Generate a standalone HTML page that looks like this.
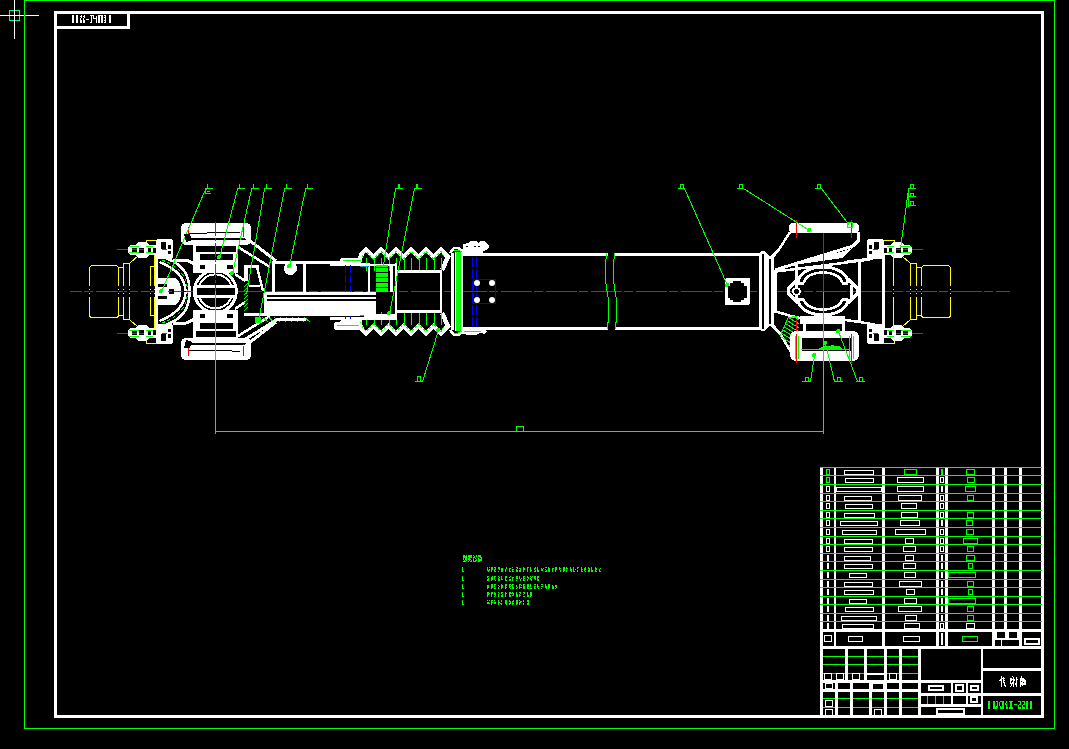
<!DOCTYPE html>
<html><head><meta charset="utf-8"><style>
html,body{margin:0;padding:0;background:#000;width:1069px;height:749px;overflow:hidden}
svg{display:block}
</style></head><body>
<svg width="1069" height="749" viewBox="0 0 1069 749" shape-rendering="crispEdges">
<rect width="1069" height="749" fill="#000"/>
<rect x="24" y="0" width="1031" height="1" fill="#0f0"/>
<rect x="24" y="728" width="1031" height="1" fill="#0f0"/>
<rect x="24" y="0" width="1" height="729" fill="#0f0"/>
<rect x="1054" y="0" width="1" height="729" fill="#0f0"/>
<rect x="54" y="11" width="990" height="3" fill="#fff"/>
<rect x="54" y="715" width="990" height="3" fill="#fff"/>
<rect x="54" y="11" width="3" height="707" fill="#fff"/>
<rect x="1041" y="11" width="3" height="707" fill="#fff"/>
<rect x="54" y="11" width="76" height="3" fill="#fff"/>
<rect x="54" y="26" width="76" height="3" fill="#fff"/>
<rect x="54" y="11" width="3" height="18" fill="#fff"/>
<rect x="127" y="11" width="3" height="18" fill="#fff"/>
<rect x="9" y="10" width="11" height="1" fill="#00ff80"/>
<rect x="9" y="20" width="11" height="1" fill="#00ff80"/>
<rect x="9" y="10" width="1" height="11" fill="#00ff80"/>
<rect x="19" y="10" width="1" height="11" fill="#00ff80"/>
<rect x="14" y="0" width="1" height="39" fill="#fff"/>
<rect x="0" y="15" width="39" height="1" fill="#fff"/>
<rect x="24" y="15" width="1" height="1" fill="#f0f"/>
<line x1="69.5" y1="291.5" x2="1009.5" y2="291.5" stroke="#f00" stroke-width="1" stroke-dasharray="31 2 9 3" stroke-dashoffset="19"/>
<g transform="">
<path d="M138,256 L130,263 M146,244 L146,240 L157,240" stroke="#ff0" stroke-width="1" fill="none" />
<rect x="128" y="245" width="30" height="10" rx="4" fill="#fff"/>
<rect x="136" y="242" width="13" height="16" rx="4" fill="#fff"/>
<rect x="156" y="239" width="17" height="20" rx="3" fill="#fff"/>
<rect x="132" y="248" width="5" height="5" fill="#000"/>
<rect x="139" y="248" width="5" height="5" fill="#000"/>
<rect x="148" y="248" width="3" height="5" fill="#000"/>
<rect x="153" y="248" width="3" height="5" fill="#000"/>
<rect x="161" y="242" width="5" height="7" fill="#000"/>
<rect x="168" y="245" width="3" height="4" fill="#000"/>
<rect x="168" y="251" width="3" height="3" fill="#000"/>
<rect x="129" y="246" width="10" height="1" fill="#0f0"/>
<rect x="146" y="246" width="7" height="1" fill="#0f0"/>
<rect x="129" y="252" width="10" height="1" fill="#0f0"/>
<rect x="146" y="252" width="7" height="1" fill="#0f0"/>
<rect x="117" y="249" width="11" height="1" fill="#f00"/>
<rect x="132" y="249" width="5" height="1" fill="#f00"/>
<rect x="139" y="249" width="5" height="1" fill="#f00"/>
<rect x="162" y="249" width="5" height="1" fill="#f00"/>
<rect x="155" y="253" width="3" height="39" fill="#fff"/>
</g>
<g transform="matrix(1 0 0 -1 0 583)">
<path d="M138,256 L130,263 M146,244 L146,240 L157,240" stroke="#ff0" stroke-width="1" fill="none" />
<rect x="128" y="245" width="30" height="10" rx="4" fill="#fff"/>
<rect x="136" y="242" width="13" height="16" rx="4" fill="#fff"/>
<rect x="156" y="239" width="17" height="20" rx="3" fill="#fff"/>
<rect x="132" y="248" width="5" height="5" fill="#000"/>
<rect x="139" y="248" width="5" height="5" fill="#000"/>
<rect x="148" y="248" width="3" height="5" fill="#000"/>
<rect x="153" y="248" width="3" height="5" fill="#000"/>
<rect x="161" y="242" width="5" height="7" fill="#000"/>
<rect x="168" y="245" width="3" height="4" fill="#000"/>
<rect x="168" y="251" width="3" height="3" fill="#000"/>
<rect x="129" y="246" width="10" height="1" fill="#0f0"/>
<rect x="146" y="246" width="7" height="1" fill="#0f0"/>
<rect x="129" y="252" width="10" height="1" fill="#0f0"/>
<rect x="146" y="252" width="7" height="1" fill="#0f0"/>
<rect x="117" y="249" width="11" height="1" fill="#f00"/>
<rect x="132" y="249" width="5" height="1" fill="#f00"/>
<rect x="139" y="249" width="5" height="1" fill="#f00"/>
<rect x="162" y="249" width="5" height="1" fill="#f00"/>
<rect x="155" y="253" width="3" height="39" fill="#fff"/>
</g>
<g transform="matrix(-1 0 0 1 1040 0)">
<path d="M138,256 L130,263 M146,244 L146,240 L157,240" stroke="#ff0" stroke-width="1" fill="none" />
<rect x="128" y="245" width="30" height="10" rx="4" fill="#fff"/>
<rect x="136" y="242" width="13" height="16" rx="4" fill="#fff"/>
<rect x="156" y="239" width="17" height="20" rx="3" fill="#fff"/>
<rect x="132" y="248" width="5" height="5" fill="#000"/>
<rect x="139" y="248" width="5" height="5" fill="#000"/>
<rect x="148" y="248" width="3" height="5" fill="#000"/>
<rect x="153" y="248" width="3" height="5" fill="#000"/>
<rect x="161" y="242" width="5" height="7" fill="#000"/>
<rect x="168" y="245" width="3" height="4" fill="#000"/>
<rect x="168" y="251" width="3" height="3" fill="#000"/>
<rect x="129" y="246" width="10" height="1" fill="#0f0"/>
<rect x="146" y="246" width="7" height="1" fill="#0f0"/>
<rect x="129" y="252" width="10" height="1" fill="#0f0"/>
<rect x="146" y="252" width="7" height="1" fill="#0f0"/>
<rect x="117" y="249" width="11" height="1" fill="#f00"/>
<rect x="132" y="249" width="5" height="1" fill="#f00"/>
<rect x="139" y="249" width="5" height="1" fill="#f00"/>
<rect x="162" y="249" width="5" height="1" fill="#f00"/>
<rect x="155" y="253" width="3" height="39" fill="#fff"/>
</g>
<g transform="matrix(-1 0 0 -1 1040 583)">
<path d="M138,256 L130,263 M146,244 L146,240 L157,240" stroke="#ff0" stroke-width="1" fill="none" />
<rect x="128" y="245" width="30" height="10" rx="4" fill="#fff"/>
<rect x="136" y="242" width="13" height="16" rx="4" fill="#fff"/>
<rect x="156" y="239" width="17" height="20" rx="3" fill="#fff"/>
<rect x="132" y="248" width="5" height="5" fill="#000"/>
<rect x="139" y="248" width="5" height="5" fill="#000"/>
<rect x="148" y="248" width="3" height="5" fill="#000"/>
<rect x="153" y="248" width="3" height="5" fill="#000"/>
<rect x="161" y="242" width="5" height="7" fill="#000"/>
<rect x="168" y="245" width="3" height="4" fill="#000"/>
<rect x="168" y="251" width="3" height="3" fill="#000"/>
<rect x="129" y="246" width="10" height="1" fill="#0f0"/>
<rect x="146" y="246" width="7" height="1" fill="#0f0"/>
<rect x="129" y="252" width="10" height="1" fill="#0f0"/>
<rect x="146" y="252" width="7" height="1" fill="#0f0"/>
<rect x="117" y="249" width="11" height="1" fill="#f00"/>
<rect x="132" y="249" width="5" height="1" fill="#f00"/>
<rect x="139" y="249" width="5" height="1" fill="#f00"/>
<rect x="162" y="249" width="5" height="1" fill="#f00"/>
<rect x="155" y="253" width="3" height="39" fill="#fff"/>
</g>
<g>
<rect x="89.5" y="265.5" width="29" height="52" rx="3" fill="none" stroke="#ff0" stroke-width="1"/>
<rect x="118" y="267" width="6" height="1" fill="#ff0"/>
<rect x="118" y="315" width="6" height="1" fill="#ff0"/>
<rect x="118" y="267" width="1" height="49" fill="#ff0"/>
<rect x="123" y="267" width="1" height="49" fill="#ff0"/>
<rect x="123" y="263" width="7" height="1" fill="#ff0"/>
<rect x="123" y="319" width="7" height="1" fill="#ff0"/>
<rect x="123" y="263" width="1" height="57" fill="#ff0"/>
<rect x="129" y="263" width="1" height="57" fill="#ff0"/>
<rect x="150" y="266" width="5" height="1" fill="#ff0"/>
<rect x="150" y="315" width="5" height="1" fill="#ff0"/>
<rect x="150" y="266" width="1" height="50" fill="#ff0"/>
<rect x="154" y="266" width="1" height="50" fill="#ff0"/>
<rect x="154" y="255" width="1" height="74" fill="#ff0"/>
<rect x="89" y="286" width="1" height="11" fill="#000"/>
<rect x="89" y="289" width="1" height="1" fill="#ff0"/>
<rect x="89" y="293" width="1" height="1" fill="#ff0"/>
<rect x="118" y="286" width="1" height="11" fill="#000"/>
<rect x="118" y="289" width="1" height="1" fill="#ff0"/>
<rect x="118" y="293" width="1" height="1" fill="#ff0"/>
<rect x="123" y="286" width="1" height="11" fill="#000"/>
<rect x="123" y="289" width="1" height="1" fill="#ff0"/>
<rect x="123" y="293" width="1" height="1" fill="#ff0"/>
<rect x="129" y="286" width="1" height="11" fill="#000"/>
<rect x="129" y="289" width="1" height="1" fill="#ff0"/>
<rect x="129" y="293" width="1" height="1" fill="#ff0"/>
<rect x="150" y="286" width="1" height="11" fill="#000"/>
<rect x="150" y="289" width="1" height="1" fill="#ff0"/>
<rect x="150" y="293" width="1" height="1" fill="#ff0"/>
<rect x="154" y="286" width="1" height="11" fill="#000"/>
<rect x="154" y="289" width="1" height="1" fill="#ff0"/>
<rect x="154" y="293" width="1" height="1" fill="#ff0"/>
</g>
<g transform="matrix(-1 0 0 1 1040 0)">
<rect x="89.5" y="265.5" width="29" height="52" rx="3" fill="none" stroke="#ff0" stroke-width="1"/>
<rect x="118" y="267" width="6" height="1" fill="#ff0"/>
<rect x="118" y="315" width="6" height="1" fill="#ff0"/>
<rect x="118" y="267" width="1" height="49" fill="#ff0"/>
<rect x="123" y="267" width="1" height="49" fill="#ff0"/>
<rect x="123" y="263" width="7" height="1" fill="#ff0"/>
<rect x="123" y="319" width="7" height="1" fill="#ff0"/>
<rect x="123" y="263" width="1" height="57" fill="#ff0"/>
<rect x="129" y="263" width="1" height="57" fill="#ff0"/>
<rect x="146" y="255" width="1" height="74" fill="#ff0"/>
<rect x="89" y="286" width="1" height="11" fill="#000"/>
<rect x="89" y="289" width="1" height="1" fill="#ff0"/>
<rect x="89" y="293" width="1" height="1" fill="#ff0"/>
<rect x="118" y="286" width="1" height="11" fill="#000"/>
<rect x="118" y="289" width="1" height="1" fill="#ff0"/>
<rect x="118" y="293" width="1" height="1" fill="#ff0"/>
<rect x="123" y="286" width="1" height="11" fill="#000"/>
<rect x="123" y="289" width="1" height="1" fill="#ff0"/>
<rect x="123" y="293" width="1" height="1" fill="#ff0"/>
<rect x="129" y="286" width="1" height="11" fill="#000"/>
<rect x="129" y="289" width="1" height="1" fill="#ff0"/>
<rect x="129" y="293" width="1" height="1" fill="#ff0"/>
<rect x="146" y="286" width="1" height="11" fill="#000"/>
<rect x="146" y="289" width="1" height="1" fill="#ff0"/>
<rect x="146" y="293" width="1" height="1" fill="#ff0"/>
</g>
<g>
<path d="M162,257 C177,261 190,270 189.5,291" stroke="#fff" stroke-width="2.5" fill="none" />
<path d="M159.5,262 C172,267 185,276 185.5,291" stroke="#fff" stroke-width="2.5" fill="none" />
<path d="M162,260 C175,265 187,273 187.5,291" stroke="#0f0" stroke-width="1" fill="none" stroke-dasharray="3 3"/>
<path d="M173,260 L186,260 L193,263 L197,270" stroke="#fff" stroke-width="3" fill="none" />
<path d="M167,278 L175,278 Q181,281 181,291 L167,291 Z" fill="#fff"/>
<rect x="158" y="278" width="10" height="6" fill="#fff"/>
<rect x="158" y="287" width="10" height="5" fill="#fff"/>
<path d="M169,289 L174,289 L174,291 L169,291 Z" fill="#000"/>
<rect x="181" y="223" width="70" height="22" rx="5" fill="#fff"/>
<path d="M189,233 L207,233 L232,232 L240,232" stroke="#000" stroke-width="1" fill="none" />
<rect x="186" y="238" width="62" height="2" fill="#000"/>
<rect x="188" y="227" width="1" height="12" fill="#f00"/>
<rect x="243" y="227" width="1" height="12" fill="#f00"/>
<rect x="193" y="245" width="45" height="28" fill="#fff"/>
<rect x="196" y="246" width="40" height="6" fill="#000"/>
<rect x="200" y="254" width="33" height="6" fill="#000"/>
<rect x="200" y="265" width="5" height="4" fill="#000"/>
<rect x="227" y="265" width="6" height="4" fill="#000"/>
<path d="M244,236 L276,261" stroke="#fff" stroke-width="3" fill="none" />
<path d="M238,247 L270,267" stroke="#fff" stroke-width="2.5" fill="none" />
<path d="M235,274 L245,281" stroke="#fff" stroke-width="2.5" fill="none" />
<path d="M359,263 L361,255 L366,249.5 L373.5,257 L381,249.5 L388.5,257 L396,249.5 L403.5,257 L411,249.5 L418.5,257 L426,249.5 L433.5,257 L441,249.5 L448,257 L442,270" stroke="#fff" stroke-width="4.5" fill="none" />
<path d="M362,257 L366,251.5 L373.5,259 L381,251.5 L388.5,259 L396,251.5 L403.5,259 L411,251.5 L418.5,259 L426,251.5 L433.5,259 L441,251.5 L445,258" stroke="#0f0" stroke-width="1" fill="none" stroke-dasharray="2 2"/>
<rect x="366" y="258" width="1" height="13" fill="#0f0"/>
<rect x="374" y="258" width="1" height="13" fill="#0f0"/>
<rect x="381" y="258" width="1" height="13" fill="#0f0"/>
<rect x="389" y="258" width="1" height="13" fill="#0f0"/>
<rect x="396" y="258" width="1" height="13" fill="#0f0"/>
<rect x="404" y="258" width="1" height="13" fill="#0f0"/>
<rect x="411" y="258" width="1" height="13" fill="#0f0"/>
<rect x="419" y="258" width="1" height="13" fill="#0f0"/>
<rect x="426" y="258" width="1" height="13" fill="#0f0"/>
<rect x="434" y="258" width="1" height="13" fill="#0f0"/>
<rect x="441" y="258" width="1" height="13" fill="#0f0"/>
<rect x="451" y="253" width="3" height="39" fill="#fff"/>
<rect x="456" y="252" width="5" height="40" fill="#0f0"/>
<rect x="455" y="252" width="1" height="40" fill="#fff"/>
<rect x="461" y="252" width="2" height="40" fill="#fff"/>
<path d="M450,253 L454,248 L458,248 L463,251" stroke="#fff" stroke-width="2.5" fill="none" />
<path d="M454,250 L458,250 L462,252" stroke="#0f0" stroke-width="1" fill="none" />
<rect x="340" y="258" width="22" height="5" rx="2" fill="#fff"/>
<rect x="343" y="260" width="18" height="1" fill="#0f0"/>
<rect x="330" y="263" width="38" height="3" fill="#fff"/>
<line x1="345.5" y1="264.5" x2="345.5" y2="291.5" stroke="#00f" stroke-width="1" stroke-dasharray="8 2"/>
<line x1="350.5" y1="264.5" x2="350.5" y2="291.5" stroke="#00f" stroke-width="1" stroke-dasharray="8 2"/>
<rect x="396" y="270" width="46" height="3" fill="#fff"/>
<rect x="395" y="263" width="2" height="29" fill="#fff"/>
<rect x="440" y="270" width="2" height="22" fill="#fff"/>
</g>
<g transform="matrix(1 0 0 -1 0 583)">
<path d="M162,257 C177,261 190,270 189.5,291" stroke="#fff" stroke-width="2.5" fill="none" />
<path d="M159.5,262 C172,267 185,276 185.5,291" stroke="#fff" stroke-width="2.5" fill="none" />
<path d="M162,260 C175,265 187,273 187.5,291" stroke="#0f0" stroke-width="1" fill="none" stroke-dasharray="3 3"/>
<path d="M173,260 L186,260 L193,263 L197,270" stroke="#fff" stroke-width="3" fill="none" />
<path d="M167,278 L175,278 Q181,281 181,291 L167,291 Z" fill="#fff"/>
<rect x="158" y="278" width="10" height="6" fill="#fff"/>
<rect x="158" y="287" width="10" height="5" fill="#fff"/>
<path d="M169,289 L174,289 L174,291 L169,291 Z" fill="#000"/>
<rect x="181" y="223" width="70" height="22" rx="5" fill="#fff"/>
<path d="M189,233 L207,233 L232,232 L240,232" stroke="#000" stroke-width="1" fill="none" />
<rect x="186" y="238" width="62" height="2" fill="#000"/>
<rect x="188" y="227" width="1" height="12" fill="#f00"/>
<rect x="243" y="227" width="1" height="12" fill="#f00"/>
<rect x="193" y="245" width="45" height="28" fill="#fff"/>
<rect x="196" y="246" width="40" height="6" fill="#000"/>
<rect x="200" y="254" width="33" height="6" fill="#000"/>
<rect x="200" y="265" width="5" height="4" fill="#000"/>
<rect x="227" y="265" width="6" height="4" fill="#000"/>
<path d="M244,236 L276,261" stroke="#fff" stroke-width="3" fill="none" />
<path d="M238,247 L270,267" stroke="#fff" stroke-width="2.5" fill="none" />
<path d="M235,274 L245,281" stroke="#fff" stroke-width="2.5" fill="none" />
<path d="M359,263 L361,255 L366,249.5 L373.5,257 L381,249.5 L388.5,257 L396,249.5 L403.5,257 L411,249.5 L418.5,257 L426,249.5 L433.5,257 L441,249.5 L448,257 L442,270" stroke="#fff" stroke-width="4.5" fill="none" />
<path d="M362,257 L366,251.5 L373.5,259 L381,251.5 L388.5,259 L396,251.5 L403.5,259 L411,251.5 L418.5,259 L426,251.5 L433.5,259 L441,251.5 L445,258" stroke="#0f0" stroke-width="1" fill="none" stroke-dasharray="2 2"/>
<rect x="366" y="258" width="1" height="13" fill="#0f0"/>
<rect x="374" y="258" width="1" height="13" fill="#0f0"/>
<rect x="381" y="258" width="1" height="13" fill="#0f0"/>
<rect x="389" y="258" width="1" height="13" fill="#0f0"/>
<rect x="396" y="258" width="1" height="13" fill="#0f0"/>
<rect x="404" y="258" width="1" height="13" fill="#0f0"/>
<rect x="411" y="258" width="1" height="13" fill="#0f0"/>
<rect x="419" y="258" width="1" height="13" fill="#0f0"/>
<rect x="426" y="258" width="1" height="13" fill="#0f0"/>
<rect x="434" y="258" width="1" height="13" fill="#0f0"/>
<rect x="441" y="258" width="1" height="13" fill="#0f0"/>
<rect x="451" y="253" width="3" height="39" fill="#fff"/>
<rect x="456" y="252" width="5" height="40" fill="#0f0"/>
<rect x="455" y="252" width="1" height="40" fill="#fff"/>
<rect x="461" y="252" width="2" height="40" fill="#fff"/>
<path d="M450,253 L454,248 L458,248 L463,251" stroke="#fff" stroke-width="2.5" fill="none" />
<path d="M454,250 L458,250 L462,252" stroke="#0f0" stroke-width="1" fill="none" />
<rect x="340" y="258" width="22" height="5" rx="2" fill="#fff"/>
<rect x="343" y="260" width="18" height="1" fill="#0f0"/>
<rect x="330" y="263" width="38" height="3" fill="#fff"/>
<line x1="345.5" y1="264.5" x2="345.5" y2="291.5" stroke="#00f" stroke-width="1" stroke-dasharray="8 2"/>
<line x1="350.5" y1="264.5" x2="350.5" y2="291.5" stroke="#00f" stroke-width="1" stroke-dasharray="8 2"/>
<rect x="396" y="270" width="46" height="3" fill="#fff"/>
<rect x="395" y="263" width="2" height="29" fill="#fff"/>
<rect x="440" y="270" width="2" height="22" fill="#fff"/>
</g>
<circle cx="215.3" cy="291.4" r="21" stroke="#fff" stroke-width="3" fill="none"/>
<circle cx="215.3" cy="291.4" r="17" stroke="#fff" stroke-width="2" fill="none"/>
<rect x="195" y="285" width="42" height="13" fill="#fff"/>
<rect x="197" y="288" width="38" height="7" fill="#000"/>
<rect x="244" y="265" width="15" height="3" fill="#fff"/>
<rect x="244" y="265" width="4" height="16" fill="#fff"/>
<rect x="249" y="285" width="11" height="2" fill="#fff"/>
<path d="M257,267 L263,291" stroke="#fff" stroke-width="2.5" fill="none" />
<rect x="244" y="313" width="64" height="3" fill="#fff"/>
<rect x="249" y="292" width="16" height="21" fill="#000"/>
<path d="M244,287 L248,283" stroke="#0f0" stroke-width="1" fill="none" />
<path d="M244,291 L248,287" stroke="#0f0" stroke-width="1" fill="none" />
<path d="M244,295 L248,291" stroke="#0f0" stroke-width="1" fill="none" />
<path d="M244,299 L248,295" stroke="#0f0" stroke-width="1" fill="none" />
<path d="M244,303 L248,299" stroke="#0f0" stroke-width="1" fill="none" />
<path d="M244,307 L248,303" stroke="#0f0" stroke-width="1" fill="none" />
<path d="M244,311 L248,307" stroke="#0f0" stroke-width="1" fill="none" />
<path d="M262,317 L268,322" stroke="#0f0" stroke-width="1" fill="none" />
<path d="M268,317 L274,322" stroke="#0f0" stroke-width="1" fill="none" />
<path d="M274,317 L280,322" stroke="#0f0" stroke-width="1" fill="none" />
<path d="M280,317 L286,322" stroke="#0f0" stroke-width="1" fill="none" />
<path d="M286,317 L292,322" stroke="#0f0" stroke-width="1" fill="none" />
<path d="M292,317 L298,322" stroke="#0f0" stroke-width="1" fill="none" />
<path d="M298,317 L304,322" stroke="#0f0" stroke-width="1" fill="none" />
<path d="M304,317 L310,322" stroke="#0f0" stroke-width="1" fill="none" />
<path d="M244,340 L278,319 L306,319" stroke="#fff" stroke-width="3" fill="none" />
<rect x="272" y="261" width="70" height="3" fill="#fff"/>
<rect x="272" y="261" width="3" height="31" fill="#fff"/>
<rect x="303" y="261" width="3" height="31" fill="#fff"/>
<circle cx="290.5" cy="268.5" r="6" stroke="#fff" stroke-width="1" fill="#fff"/>
<rect x="264" y="292" width="109" height="24" fill="#fff"/>
<rect x="267" y="295" width="106" height="2" fill="#000"/>
<rect x="267" y="299" width="106" height="2" fill="#000"/>
<rect x="368" y="263" width="2" height="29" fill="#fff"/>
<rect x="390" y="264" width="3" height="28" fill="#fff"/>
<rect x="369" y="264" width="26" height="2" fill="#fff"/>
<rect x="376" y="265" width="12" height="27" fill="#0f0"/>
<rect x="376" y="267" width="12" height="1" fill="#000"/>
<rect x="376" y="272" width="12" height="1" fill="#000"/>
<rect x="376" y="277" width="12" height="1" fill="#000"/>
<rect x="376" y="282" width="12" height="1" fill="#000"/>
<rect x="376" y="287" width="12" height="1" fill="#000"/>
<rect x="360" y="266" width="9" height="1" fill="#0aa"/>
<rect x="360" y="315" width="9" height="1" fill="#0aa"/>
<rect x="264" y="292" width="112" height="23" fill="#fff"/>
<rect x="267" y="295" width="109" height="2" fill="#000"/>
<rect x="267" y="299" width="109" height="2" fill="#000"/>
<rect x="376" y="292" width="19" height="18" fill="#000"/>
<rect x="364" y="314" width="32" height="6" fill="#fff"/>
<rect x="334" y="322" width="27" height="8" rx="3" fill="#fff"/>
<rect x="337" y="325" width="22" height="1" fill="#0f0"/>
<line x1="205.5" y1="189.5" x2="161.5" y2="291.5" stroke="#0f0" stroke-width="1" />
<rect x="205" y="188" width="8" height="1" fill="#0f0"/>
<rect x="207" y="184" width="1" height="5" fill="#0f0"/>
<line x1="237.5" y1="189.5" x2="219.5" y2="257.5" stroke="#0f0" stroke-width="1" />
<rect x="237" y="188" width="8" height="1" fill="#0f0"/>
<rect x="239" y="184" width="1" height="5" fill="#0f0"/>
<line x1="251.5" y1="189.5" x2="232.5" y2="273.5" stroke="#0f0" stroke-width="1" />
<rect x="251" y="188" width="8" height="1" fill="#0f0"/>
<rect x="253" y="184" width="1" height="5" fill="#0f0"/>
<line x1="264.5" y1="189.5" x2="246.5" y2="294.5" stroke="#0f0" stroke-width="1" />
<rect x="264" y="188" width="8" height="1" fill="#0f0"/>
<rect x="266" y="184" width="1" height="5" fill="#0f0"/>
<line x1="284.5" y1="189.5" x2="258.5" y2="320.5" stroke="#0f0" stroke-width="1" />
<rect x="284" y="188" width="8" height="1" fill="#0f0"/>
<rect x="286" y="184" width="1" height="5" fill="#0f0"/>
<line x1="305.5" y1="189.5" x2="289.5" y2="266.5" stroke="#0f0" stroke-width="1" />
<rect x="305" y="188" width="8" height="1" fill="#0f0"/>
<rect x="307" y="184" width="1" height="5" fill="#0f0"/>
<rect x="205" y="189" width="2" height="1" fill="#0f0"/>
<rect x="205" y="190" width="1" height="1" fill="#0f0"/>
<rect x="205" y="191" width="1" height="1" fill="#0f0"/>
<rect x="207" y="191" width="3" height="1" fill="#0f0"/>
<rect x="205" y="192" width="1" height="1" fill="#0f0"/>
<rect x="205" y="193" width="6" height="1" fill="#0f0"/>
<circle cx="258" cy="320" r="3" stroke="#0f0" stroke-width="1" fill="#0f0"/>
<circle cx="219" cy="257" r="1.5" stroke="#0f0" stroke-width="1" fill="#0f0"/>
<circle cx="232" cy="273" r="1.5" stroke="#0f0" stroke-width="1" fill="#0f0"/>
<circle cx="289" cy="266" r="1.5" stroke="#0f0" stroke-width="1" fill="#0f0"/>
<circle cx="161" cy="291" r="1.5" stroke="#0f0" stroke-width="1" fill="#0f0"/>
<rect x="462" y="253" width="146" height="3" fill="#fff"/>
<rect x="462" y="327" width="146" height="3" fill="#fff"/>
<rect x="615" y="253" width="146" height="3" fill="#fff"/>
<rect x="615" y="327" width="146" height="3" fill="#fff"/>
<path d="M607,253 Q603,270 607,291 Q611,310 607,329" stroke="#0f0" stroke-width="1" fill="none" />
<path d="M615,253 Q611,270 615,291 Q619,310 615,329" stroke="#0f0" stroke-width="1" fill="none" />
<line x1="472.5" y1="256.5" x2="472.5" y2="326.5" stroke="#00f" stroke-width="1" stroke-dasharray="10 2"/>
<line x1="476.5" y1="256.5" x2="476.5" y2="326.5" stroke="#00f" stroke-width="1" stroke-dasharray="10 2"/>
<rect x="473" y="279" width="23" height="1" fill="#00f"/>
<rect x="473" y="303" width="23" height="1" fill="#00f"/>
<rect x="473" y="279" width="1" height="25" fill="#00f"/>
<rect x="495" y="279" width="1" height="25" fill="#00f"/>
<circle cx="477" cy="283" r="3" fill="#fff" shape-rendering="auto"/>
<circle cx="492" cy="283" r="3" fill="#fff" shape-rendering="auto"/>
<circle cx="477" cy="300" r="3" fill="#fff" shape-rendering="auto"/>
<circle cx="492" cy="300" r="3" fill="#fff" shape-rendering="auto"/>
<path d="M463,253 L463,244 L468,243 L471,241 L476,241 L478,243 L481,241 L485,241 L487,244 L489,245 L489,248 L486,250 L483,251 L483,253 Z" fill="#fff"/>
<rect x="466" y="246" width="2" height="1" fill="#000"/>
<rect x="474" y="246" width="2" height="1" fill="#000"/>
<rect x="478" y="246" width="2" height="1" fill="#000"/>
<path d="M463,329 L463,334 L468,335 L476,335 L480,333 L485,334 L487,331 L484,329 Z" fill="#fff"/>
<rect x="464" y="331" width="17" height="1" fill="#0f0"/>
<rect x="725" y="278" width="25" height="27" rx="2" fill="#fff"/>
<path d="M733,281 L741,281 L741,283 L744,283 L744,286 L747,286 L747,298 L744,298 L744,300 L741,300 L741,302 L733,302 L733,300 L730,300 L730,298 L728,298 L728,286 L730,286 L730,283 L733,283 Z" fill="#000"/>
<path d="M759,329 L759,253 L761,251 L764,251 L766,253 L770,256 L774,253 L778,248 L780,249 L774,258 L774,324 L780,333 L778,334 L774,329 L770,326 L766,329 L764,331 L761,331 Z" fill="#fff"/>
<rect x="762" y="254" width="2" height="75" fill="#000"/>
<rect x="769" y="259" width="2" height="65" fill="#000"/>
<rect x="774" y="270" width="3" height="43" fill="#fff"/>
<rect x="789" y="223" width="70" height="10" rx="4" fill="#fff"/>
<path d="M774,255 L778,251 L790,232" stroke="#fff" stroke-width="2.5" fill="none" />
<path d="M858,232 L858,241 L853,246 L775,270" stroke="#fff" stroke-width="3" fill="none" />
<path d="M776,271.5 L870,259.5" stroke="#fff" stroke-width="2.5" fill="none" />
<path d="M800,262 L840,252 L852,248 L842,258 L800,264 Z" fill="#fff"/>
<rect x="796" y="220" width="1" height="18" fill="#f00"/>
<rect x="851" y="220" width="1" height="18" fill="#f00"/>
<rect x="795" y="265" width="3" height="36" fill="#fff"/>
<rect x="858" y="262" width="3" height="61" fill="#fff"/>
<path d="M798,283 A25,16 0 0 1 848,283" stroke="#fff" stroke-width="3" fill="none" />
<path d="M804,283 A19,10.5 0 0 1 842,283" stroke="#fff" stroke-width="2.5" fill="none" />
<path d="M798,283 L804,283" stroke="#fff" stroke-width="3" fill="none" />
<path d="M848,283 L842,283" stroke="#fff" stroke-width="3" fill="none" />
<path d="M798,299 A25,16 0 0 0 848,299" stroke="#fff" stroke-width="3" fill="none" />
<path d="M804,299 A19,10.5 0 0 0 842,299" stroke="#fff" stroke-width="2.5" fill="none" />
<path d="M798,299 L804,299" stroke="#fff" stroke-width="3" fill="none" />
<path d="M848,299 L842,299" stroke="#fff" stroke-width="3" fill="none" />
<path d="M798,279 L788,289 L788,293 L798,303" stroke="#fff" stroke-width="3" fill="none" />
<path d="M848,279 L857,288 L857,294 L848,303" stroke="#fff" stroke-width="3" fill="none" />
<circle cx="796.5" cy="291.5" r="3.5" stroke="#fff" stroke-width="2" fill="#000"/>
<rect x="850" y="285" width="3" height="13" fill="#fff"/>
<path d="M774,311 L791,316 L800,318" stroke="#fff" stroke-width="2.5" fill="none" />
<path d="M774,327 L779,332 L791,352" stroke="#fff" stroke-width="2.5" fill="none" />
<rect x="800" y="316" width="43" height="8" fill="#fff"/>
<rect x="808" y="324" width="32" height="5" fill="#000"/>
<rect x="803" y="316" width="3" height="23" fill="#fff"/>
<rect x="842" y="316" width="3" height="23" fill="#fff"/>
<defs><clipPath id="hc"><polygon points="780,336 789,317 799,317 799,331 793,350 788,345"/></clipPath></defs>
<path d="M780,336 L788,318 L797,316" fill="none" stroke="#0f0" stroke-width="1"/>
<g clip-path="url(#hc)"><path d="M770,270 L812,296 M770,274 L812,300 M770,278 L812,304 M770,282 L812,308 M770,286 L812,312 M770,290 L812,316 M770,294 L812,320 M770,298 L812,324 M770,302 L812,328 M770,306 L812,332 M770,310 L812,336 M770,314 L812,340 M770,318 L812,344 M770,322 L812,348 M770,326 L812,352 M770,330 L812,356 M770,334 L812,360 M770,338 L812,364 M770,342 L812,368 M770,346 L812,372 " stroke="#0f0" stroke-width="1" fill="none"/></g>
<rect x="796" y="320" width="1" height="11" fill="#f00"/>
<rect x="790" y="331" width="69" height="30" rx="6" fill="#fff"/>
<rect x="802" y="338" width="49" height="13" fill="#000"/>
<rect x="801" y="349" width="49" height="1" fill="#0f0"/>
<rect x="796" y="334" width="1" height="29" fill="#f00"/>
<rect x="851" y="334" width="1" height="29" fill="#f00"/>
<rect x="795" y="336" width="1" height="23" fill="#0f0"/>
<rect x="798" y="336" width="1" height="23" fill="#0f0"/>
<rect x="849" y="336" width="1" height="23" fill="#0f0"/>
<rect x="853" y="336" width="1" height="23" fill="#0f0"/>
<path d="M818,349 Q826,344 840,346 L842,349 Z" fill="#0f0"/>
<path d="M845,262 L860,260 L882,257" stroke="#fff" stroke-width="2.5" fill="none" />
<path d="M845,320 L860,322 L882,326" stroke="#fff" stroke-width="2.5" fill="none" />
<line x1="684.5" y1="188.5" x2="727.5" y2="285.5" stroke="#0f0" stroke-width="1" />
<rect x="680" y="184" width="4" height="1" fill="#0f0"/>
<rect x="680" y="188" width="4" height="1" fill="#0f0"/>
<rect x="680" y="184" width="1" height="5" fill="#0f0"/>
<rect x="683" y="184" width="1" height="5" fill="#0f0"/>
<rect x="678" y="188" width="7" height="1" fill="#0f0"/>
<line x1="743.5" y1="188.5" x2="809.5" y2="230.5" stroke="#0f0" stroke-width="1" />
<rect x="739" y="184" width="4" height="1" fill="#0f0"/>
<rect x="739" y="188" width="4" height="1" fill="#0f0"/>
<rect x="739" y="184" width="1" height="5" fill="#0f0"/>
<rect x="742" y="184" width="1" height="5" fill="#0f0"/>
<rect x="737" y="188" width="7" height="1" fill="#0f0"/>
<line x1="821.5" y1="188.5" x2="849.5" y2="225.5" stroke="#0f0" stroke-width="1" />
<rect x="817" y="184" width="4" height="1" fill="#0f0"/>
<rect x="817" y="188" width="4" height="1" fill="#0f0"/>
<rect x="817" y="184" width="1" height="5" fill="#0f0"/>
<rect x="820" y="184" width="1" height="5" fill="#0f0"/>
<rect x="815" y="188" width="7" height="1" fill="#0f0"/>
<rect x="847" y="222" width="6" height="1" fill="#0f0"/>
<rect x="847" y="227" width="6" height="1" fill="#0f0"/>
<rect x="847" y="222" width="1" height="6" fill="#0f0"/>
<rect x="852" y="222" width="1" height="6" fill="#0f0"/>
<circle cx="809" cy="230" r="1.5" stroke="#0f0" stroke-width="1" fill="#0f0"/>
<circle cx="727" cy="285" r="1.5" stroke="#0f0" stroke-width="1" fill="#0f0"/>
<line x1="810.5" y1="381.5" x2="814.5" y2="355.5" stroke="#0f0" stroke-width="1" />
<rect x="805" y="377" width="4" height="1" fill="#0f0"/>
<rect x="805" y="381" width="4" height="1" fill="#0f0"/>
<rect x="805" y="377" width="1" height="5" fill="#0f0"/>
<rect x="808" y="377" width="1" height="5" fill="#0f0"/>
<rect x="802" y="381" width="9" height="1" fill="#0f0"/>
<line x1="834.5" y1="381.5" x2="825.5" y2="343.5" stroke="#0f0" stroke-width="1" />
<rect x="837" y="377" width="4" height="1" fill="#0f0"/>
<rect x="837" y="381" width="4" height="1" fill="#0f0"/>
<rect x="837" y="377" width="1" height="5" fill="#0f0"/>
<rect x="840" y="377" width="1" height="5" fill="#0f0"/>
<rect x="834" y="381" width="9" height="1" fill="#0f0"/>
<line x1="857.5" y1="381.5" x2="838.5" y2="331.5" stroke="#0f0" stroke-width="1" />
<rect x="859" y="377" width="4" height="1" fill="#0f0"/>
<rect x="859" y="381" width="4" height="1" fill="#0f0"/>
<rect x="859" y="377" width="1" height="5" fill="#0f0"/>
<rect x="862" y="377" width="1" height="5" fill="#0f0"/>
<rect x="856" y="381" width="9" height="1" fill="#0f0"/>
<circle cx="814" cy="355" r="1.5" stroke="#0f0" stroke-width="1" fill="#0f0"/>
<circle cx="825" cy="343" r="1.5" stroke="#0f0" stroke-width="1" fill="#0f0"/>
<circle cx="838" cy="331" r="1.5" stroke="#0f0" stroke-width="1" fill="#0f0"/>
<line x1="908.5" y1="189.5" x2="900.5" y2="248.5" stroke="#0f0" stroke-width="1" />
<rect x="908" y="188" width="1" height="19" fill="#0f0"/>
<rect x="910" y="184" width="4" height="1" fill="#0f0"/>
<rect x="910" y="188" width="4" height="1" fill="#0f0"/>
<rect x="910" y="184" width="1" height="5" fill="#0f0"/>
<rect x="913" y="184" width="1" height="5" fill="#0f0"/>
<rect x="908" y="188" width="8" height="1" fill="#0f0"/>
<rect x="910" y="193" width="4" height="1" fill="#0f0"/>
<rect x="910" y="196" width="4" height="1" fill="#0f0"/>
<rect x="910" y="193" width="1" height="4" fill="#0f0"/>
<rect x="913" y="193" width="1" height="4" fill="#0f0"/>
<rect x="908" y="196" width="8" height="1" fill="#0f0"/>
<rect x="910" y="201" width="4" height="1" fill="#0f0"/>
<rect x="910" y="205" width="4" height="1" fill="#0f0"/>
<rect x="910" y="201" width="1" height="5" fill="#0f0"/>
<rect x="913" y="201" width="1" height="5" fill="#0f0"/>
<rect x="908" y="205" width="8" height="1" fill="#0f0"/>
<line x1="422.5" y1="381.5" x2="438.5" y2="330.5" stroke="#0f0" stroke-width="1" />
<rect x="417" y="376" width="4" height="1" fill="#0f0"/>
<rect x="417" y="381" width="4" height="1" fill="#0f0"/>
<rect x="417" y="376" width="1" height="6" fill="#0f0"/>
<rect x="420" y="376" width="1" height="6" fill="#0f0"/>
<rect x="415" y="381" width="8" height="1" fill="#0f0"/>
<circle cx="438" cy="330" r="1.5" stroke="#0f0" stroke-width="1" fill="#0f0"/>
<line x1="395.5" y1="188.5" x2="383.5" y2="265.5" stroke="#0f0" stroke-width="1" />
<line x1="414.5" y1="188.5" x2="389.5" y2="313.5" stroke="#0f0" stroke-width="1" />
<rect x="395" y="188" width="8" height="1" fill="#0f0"/>
<rect x="414" y="188" width="8" height="1" fill="#0f0"/>
<rect x="398" y="184" width="2" height="5" fill="#0f0"/>
<rect x="416" y="184" width="2" height="5" fill="#0f0"/>
<circle cx="389" cy="313" r="1.5" stroke="#0f0" stroke-width="1" fill="#0f0"/>
<rect x="215" y="431" width="609" height="1" fill="#0f0"/>
<rect x="215" y="291" width="1" height="143" fill="#0f0"/>
<rect x="823" y="291" width="1" height="143" fill="#0f0"/>
<rect x="516" y="426" width="8" height="1" fill="#0f0"/>
<rect x="516" y="431" width="8" height="1" fill="#0f0"/>
<rect x="516" y="426" width="1" height="6" fill="#0f0"/>
<rect x="523" y="426" width="1" height="6" fill="#0f0"/>
<rect x="823" y="233" width="1" height="59" fill="#f00"/>
<line x1="215.5" y1="221.5" x2="215.5" y2="290.5" stroke="#f00" stroke-width="1" stroke-dasharray="14 2 3 2"/>
<path d="M184,234 L190,234 L192,240 L186,242 Z" fill="#000"/>
<path d="M184,348 L190,348 L192,342 L186,340 Z" fill="#000"/>
<rect x="820" y="467" width="224" height="251" fill="#fff"/>
<rect x="823" y="468" width="11" height="161" fill="#000"/>
<rect x="836" y="468" width="46" height="161" fill="#000"/>
<rect x="885" y="468" width="51" height="161" fill="#000"/>
<rect x="939" y="468" width="6" height="161" fill="#000"/>
<rect x="948" y="468" width="44" height="161" fill="#000"/>
<rect x="995" y="468" width="9" height="161" fill="#000"/>
<rect x="1007" y="468" width="12" height="161" fill="#000"/>
<rect x="1022" y="468" width="19" height="161" fill="#000"/>
<rect x="820" y="467" width="222" height="1" fill="#0f0"/>
<rect x="820" y="475" width="222" height="1" fill="#0f0"/>
<rect x="820" y="484" width="222" height="1" fill="#0f0"/>
<rect x="820" y="493" width="222" height="1" fill="#0f0"/>
<rect x="820" y="501" width="222" height="1" fill="#0f0"/>
<rect x="820" y="510" width="222" height="1" fill="#0f0"/>
<rect x="820" y="518" width="222" height="1" fill="#0f0"/>
<rect x="820" y="527" width="222" height="1" fill="#0f0"/>
<rect x="820" y="536" width="222" height="1" fill="#0f0"/>
<rect x="820" y="544" width="222" height="1" fill="#0f0"/>
<rect x="820" y="553" width="222" height="1" fill="#0f0"/>
<rect x="820" y="561" width="222" height="1" fill="#0f0"/>
<rect x="820" y="570" width="222" height="1" fill="#0f0"/>
<rect x="820" y="579" width="222" height="1" fill="#0f0"/>
<rect x="820" y="587" width="222" height="1" fill="#0f0"/>
<rect x="820" y="596" width="222" height="1" fill="#0f0"/>
<rect x="820" y="604" width="222" height="1" fill="#0f0"/>
<rect x="820" y="613" width="222" height="1" fill="#0f0"/>
<rect x="820" y="621" width="222" height="1" fill="#0f0"/>
<rect x="844" y="470" width="30" height="1" fill="#fff"/>
<rect x="844" y="474" width="30" height="1" fill="#fff"/>
<rect x="844" y="470" width="1" height="5" fill="#fff"/>
<rect x="873" y="470" width="1" height="5" fill="#fff"/>
<rect x="904" y="469" width="13" height="1" fill="#0f0"/>
<rect x="904" y="474" width="13" height="1" fill="#0f0"/>
<rect x="904" y="469" width="1" height="6" fill="#0f0"/>
<rect x="916" y="469" width="1" height="6" fill="#0f0"/>
<rect x="966" y="469" width="9" height="1" fill="#0f0"/>
<rect x="966" y="474" width="9" height="1" fill="#0f0"/>
<rect x="966" y="469" width="1" height="6" fill="#0f0"/>
<rect x="974" y="469" width="1" height="6" fill="#0f0"/>
<rect x="826" y="469" width="4" height="1" fill="#0f0"/>
<rect x="826" y="474" width="4" height="1" fill="#0f0"/>
<rect x="826" y="469" width="1" height="6" fill="#0f0"/>
<rect x="829" y="469" width="1" height="6" fill="#0f0"/>
<rect x="941" y="469" width="2" height="6" fill="#0f0"/>
<rect x="845" y="478" width="29" height="1" fill="#fff"/>
<rect x="845" y="482" width="29" height="1" fill="#fff"/>
<rect x="845" y="478" width="1" height="5" fill="#fff"/>
<rect x="873" y="478" width="1" height="5" fill="#fff"/>
<rect x="897" y="477" width="27" height="1" fill="#fff"/>
<rect x="897" y="482" width="27" height="1" fill="#fff"/>
<rect x="897" y="477" width="1" height="6" fill="#fff"/>
<rect x="923" y="477" width="1" height="6" fill="#fff"/>
<rect x="967" y="477" width="8" height="1" fill="#0f0"/>
<rect x="967" y="482" width="8" height="1" fill="#0f0"/>
<rect x="967" y="477" width="1" height="6" fill="#0f0"/>
<rect x="974" y="477" width="1" height="6" fill="#0f0"/>
<rect x="826" y="477" width="4" height="1" fill="#0f0"/>
<rect x="826" y="482" width="4" height="1" fill="#0f0"/>
<rect x="826" y="477" width="1" height="6" fill="#0f0"/>
<rect x="829" y="477" width="1" height="6" fill="#0f0"/>
<rect x="940" y="477" width="4" height="1" fill="#fff"/>
<rect x="940" y="482" width="4" height="1" fill="#fff"/>
<rect x="940" y="477" width="1" height="6" fill="#fff"/>
<rect x="943" y="477" width="1" height="6" fill="#fff"/>
<rect x="836" y="487" width="46" height="1" fill="#fff"/>
<rect x="836" y="491" width="46" height="1" fill="#fff"/>
<rect x="836" y="487" width="1" height="5" fill="#fff"/>
<rect x="881" y="487" width="1" height="5" fill="#fff"/>
<rect x="897" y="486" width="27" height="1" fill="#fff"/>
<rect x="897" y="491" width="27" height="1" fill="#fff"/>
<rect x="897" y="486" width="1" height="6" fill="#fff"/>
<rect x="923" y="486" width="1" height="6" fill="#fff"/>
<rect x="965" y="486" width="11" height="1" fill="#0f0"/>
<rect x="965" y="491" width="11" height="1" fill="#0f0"/>
<rect x="965" y="486" width="1" height="6" fill="#0f0"/>
<rect x="975" y="486" width="1" height="6" fill="#0f0"/>
<rect x="826" y="486" width="4" height="1" fill="#fff"/>
<rect x="826" y="491" width="4" height="1" fill="#fff"/>
<rect x="826" y="486" width="1" height="6" fill="#fff"/>
<rect x="829" y="486" width="1" height="6" fill="#fff"/>
<rect x="941" y="486" width="2" height="6" fill="#fff"/>
<rect x="844" y="496" width="28" height="1" fill="#fff"/>
<rect x="844" y="500" width="28" height="1" fill="#fff"/>
<rect x="844" y="496" width="1" height="5" fill="#fff"/>
<rect x="871" y="496" width="1" height="5" fill="#fff"/>
<rect x="898" y="495" width="24" height="1" fill="#fff"/>
<rect x="898" y="500" width="24" height="1" fill="#fff"/>
<rect x="898" y="495" width="1" height="6" fill="#fff"/>
<rect x="921" y="495" width="1" height="6" fill="#fff"/>
<rect x="967" y="495" width="7" height="1" fill="#0f0"/>
<rect x="967" y="500" width="7" height="1" fill="#0f0"/>
<rect x="967" y="495" width="1" height="6" fill="#0f0"/>
<rect x="973" y="495" width="1" height="6" fill="#0f0"/>
<rect x="826" y="495" width="4" height="1" fill="#fff"/>
<rect x="826" y="500" width="4" height="1" fill="#fff"/>
<rect x="826" y="495" width="1" height="6" fill="#fff"/>
<rect x="829" y="495" width="1" height="6" fill="#fff"/>
<rect x="940" y="495" width="4" height="1" fill="#fff"/>
<rect x="940" y="500" width="4" height="1" fill="#fff"/>
<rect x="940" y="495" width="1" height="6" fill="#fff"/>
<rect x="943" y="495" width="1" height="6" fill="#fff"/>
<rect x="845" y="504" width="28" height="1" fill="#fff"/>
<rect x="845" y="508" width="28" height="1" fill="#fff"/>
<rect x="845" y="504" width="1" height="5" fill="#fff"/>
<rect x="872" y="504" width="1" height="5" fill="#fff"/>
<rect x="901" y="503" width="16" height="1" fill="#fff"/>
<rect x="901" y="508" width="16" height="1" fill="#fff"/>
<rect x="901" y="503" width="1" height="6" fill="#fff"/>
<rect x="916" y="503" width="1" height="6" fill="#fff"/>
<rect x="826" y="503" width="4" height="1" fill="#fff"/>
<rect x="826" y="508" width="4" height="1" fill="#fff"/>
<rect x="826" y="503" width="1" height="6" fill="#fff"/>
<rect x="829" y="503" width="1" height="6" fill="#fff"/>
<rect x="940" y="503" width="4" height="1" fill="#fff"/>
<rect x="940" y="508" width="4" height="1" fill="#fff"/>
<rect x="940" y="503" width="1" height="6" fill="#fff"/>
<rect x="943" y="503" width="1" height="6" fill="#fff"/>
<rect x="844" y="513" width="31" height="1" fill="#fff"/>
<rect x="844" y="517" width="31" height="1" fill="#fff"/>
<rect x="844" y="513" width="1" height="5" fill="#fff"/>
<rect x="874" y="513" width="1" height="5" fill="#fff"/>
<rect x="901" y="512" width="17" height="1" fill="#fff"/>
<rect x="901" y="517" width="17" height="1" fill="#fff"/>
<rect x="901" y="512" width="1" height="6" fill="#fff"/>
<rect x="917" y="512" width="1" height="6" fill="#fff"/>
<rect x="967" y="512" width="7" height="1" fill="#0f0"/>
<rect x="967" y="517" width="7" height="1" fill="#0f0"/>
<rect x="967" y="512" width="1" height="6" fill="#0f0"/>
<rect x="973" y="512" width="1" height="6" fill="#0f0"/>
<rect x="826" y="512" width="4" height="1" fill="#fff"/>
<rect x="826" y="517" width="4" height="1" fill="#fff"/>
<rect x="826" y="512" width="1" height="6" fill="#fff"/>
<rect x="829" y="512" width="1" height="6" fill="#fff"/>
<rect x="940" y="512" width="4" height="1" fill="#fff"/>
<rect x="940" y="517" width="4" height="1" fill="#fff"/>
<rect x="940" y="512" width="1" height="6" fill="#fff"/>
<rect x="943" y="512" width="1" height="6" fill="#fff"/>
<rect x="840" y="521" width="38" height="1" fill="#fff"/>
<rect x="840" y="525" width="38" height="1" fill="#fff"/>
<rect x="840" y="521" width="1" height="5" fill="#fff"/>
<rect x="877" y="521" width="1" height="5" fill="#fff"/>
<rect x="900" y="520" width="20" height="1" fill="#fff"/>
<rect x="900" y="525" width="20" height="1" fill="#fff"/>
<rect x="900" y="520" width="1" height="6" fill="#fff"/>
<rect x="919" y="520" width="1" height="6" fill="#fff"/>
<rect x="966" y="520" width="7" height="1" fill="#0f0"/>
<rect x="966" y="525" width="7" height="1" fill="#0f0"/>
<rect x="966" y="520" width="1" height="6" fill="#0f0"/>
<rect x="972" y="520" width="1" height="6" fill="#0f0"/>
<rect x="826" y="520" width="4" height="1" fill="#fff"/>
<rect x="826" y="525" width="4" height="1" fill="#fff"/>
<rect x="826" y="520" width="1" height="6" fill="#fff"/>
<rect x="829" y="520" width="1" height="6" fill="#fff"/>
<rect x="941" y="520" width="2" height="6" fill="#fff"/>
<rect x="842" y="530" width="35" height="1" fill="#fff"/>
<rect x="842" y="534" width="35" height="1" fill="#fff"/>
<rect x="842" y="530" width="1" height="5" fill="#fff"/>
<rect x="876" y="530" width="1" height="5" fill="#fff"/>
<rect x="895" y="529" width="31" height="1" fill="#fff"/>
<rect x="895" y="534" width="31" height="1" fill="#fff"/>
<rect x="895" y="529" width="1" height="6" fill="#fff"/>
<rect x="925" y="529" width="1" height="6" fill="#fff"/>
<rect x="966" y="529" width="8" height="1" fill="#0f0"/>
<rect x="966" y="534" width="8" height="1" fill="#0f0"/>
<rect x="966" y="529" width="1" height="6" fill="#0f0"/>
<rect x="973" y="529" width="1" height="6" fill="#0f0"/>
<rect x="826" y="529" width="4" height="1" fill="#fff"/>
<rect x="826" y="534" width="4" height="1" fill="#fff"/>
<rect x="826" y="529" width="1" height="6" fill="#fff"/>
<rect x="829" y="529" width="1" height="6" fill="#fff"/>
<rect x="940" y="529" width="4" height="1" fill="#fff"/>
<rect x="940" y="534" width="4" height="1" fill="#fff"/>
<rect x="940" y="529" width="1" height="6" fill="#fff"/>
<rect x="943" y="529" width="1" height="6" fill="#fff"/>
<rect x="844" y="539" width="29" height="1" fill="#fff"/>
<rect x="844" y="543" width="29" height="1" fill="#fff"/>
<rect x="844" y="539" width="1" height="5" fill="#fff"/>
<rect x="872" y="539" width="1" height="5" fill="#fff"/>
<rect x="905" y="538" width="9" height="1" fill="#fff"/>
<rect x="905" y="543" width="9" height="1" fill="#fff"/>
<rect x="905" y="538" width="1" height="6" fill="#fff"/>
<rect x="913" y="538" width="1" height="6" fill="#fff"/>
<rect x="963" y="538" width="15" height="1" fill="#0f0"/>
<rect x="963" y="543" width="15" height="1" fill="#0f0"/>
<rect x="963" y="538" width="1" height="6" fill="#0f0"/>
<rect x="977" y="538" width="1" height="6" fill="#0f0"/>
<rect x="826" y="538" width="4" height="1" fill="#fff"/>
<rect x="826" y="543" width="4" height="1" fill="#fff"/>
<rect x="826" y="538" width="1" height="6" fill="#fff"/>
<rect x="829" y="538" width="1" height="6" fill="#fff"/>
<rect x="940" y="538" width="4" height="1" fill="#fff"/>
<rect x="940" y="543" width="4" height="1" fill="#fff"/>
<rect x="940" y="538" width="1" height="6" fill="#fff"/>
<rect x="943" y="538" width="1" height="6" fill="#fff"/>
<rect x="844" y="547" width="29" height="1" fill="#fff"/>
<rect x="844" y="551" width="29" height="1" fill="#fff"/>
<rect x="844" y="547" width="1" height="5" fill="#fff"/>
<rect x="872" y="547" width="1" height="5" fill="#fff"/>
<rect x="903" y="546" width="13" height="1" fill="#fff"/>
<rect x="903" y="551" width="13" height="1" fill="#fff"/>
<rect x="903" y="546" width="1" height="6" fill="#fff"/>
<rect x="915" y="546" width="1" height="6" fill="#fff"/>
<rect x="967" y="546" width="7" height="1" fill="#0f0"/>
<rect x="967" y="551" width="7" height="1" fill="#0f0"/>
<rect x="967" y="546" width="1" height="6" fill="#0f0"/>
<rect x="973" y="546" width="1" height="6" fill="#0f0"/>
<rect x="826" y="546" width="4" height="1" fill="#fff"/>
<rect x="826" y="551" width="4" height="1" fill="#fff"/>
<rect x="826" y="546" width="1" height="6" fill="#fff"/>
<rect x="829" y="546" width="1" height="6" fill="#fff"/>
<rect x="940" y="546" width="4" height="1" fill="#fff"/>
<rect x="940" y="551" width="4" height="1" fill="#fff"/>
<rect x="940" y="546" width="1" height="6" fill="#fff"/>
<rect x="943" y="546" width="1" height="6" fill="#fff"/>
<rect x="844" y="556" width="27" height="1" fill="#fff"/>
<rect x="844" y="560" width="27" height="1" fill="#fff"/>
<rect x="844" y="556" width="1" height="5" fill="#fff"/>
<rect x="870" y="556" width="1" height="5" fill="#fff"/>
<rect x="905" y="555" width="9" height="1" fill="#fff"/>
<rect x="905" y="560" width="9" height="1" fill="#fff"/>
<rect x="905" y="555" width="1" height="6" fill="#fff"/>
<rect x="913" y="555" width="1" height="6" fill="#fff"/>
<rect x="966" y="555" width="9" height="1" fill="#0f0"/>
<rect x="966" y="560" width="9" height="1" fill="#0f0"/>
<rect x="966" y="555" width="1" height="6" fill="#0f0"/>
<rect x="974" y="555" width="1" height="6" fill="#0f0"/>
<rect x="827" y="555" width="2" height="6" fill="#fff"/>
<rect x="941" y="555" width="2" height="6" fill="#fff"/>
<rect x="844" y="564" width="29" height="1" fill="#fff"/>
<rect x="844" y="568" width="29" height="1" fill="#fff"/>
<rect x="844" y="564" width="1" height="5" fill="#fff"/>
<rect x="872" y="564" width="1" height="5" fill="#fff"/>
<rect x="903" y="563" width="13" height="1" fill="#fff"/>
<rect x="903" y="568" width="13" height="1" fill="#fff"/>
<rect x="903" y="563" width="1" height="6" fill="#fff"/>
<rect x="915" y="563" width="1" height="6" fill="#fff"/>
<rect x="968" y="563" width="5" height="1" fill="#0f0"/>
<rect x="968" y="568" width="5" height="1" fill="#0f0"/>
<rect x="968" y="563" width="1" height="6" fill="#0f0"/>
<rect x="972" y="563" width="1" height="6" fill="#0f0"/>
<rect x="827" y="563" width="2" height="6" fill="#fff"/>
<rect x="941" y="563" width="2" height="6" fill="#fff"/>
<rect x="849" y="573" width="18" height="1" fill="#fff"/>
<rect x="849" y="577" width="18" height="1" fill="#fff"/>
<rect x="849" y="573" width="1" height="5" fill="#fff"/>
<rect x="866" y="573" width="1" height="5" fill="#fff"/>
<rect x="904" y="572" width="12" height="1" fill="#fff"/>
<rect x="904" y="577" width="12" height="1" fill="#fff"/>
<rect x="904" y="572" width="1" height="6" fill="#fff"/>
<rect x="915" y="572" width="1" height="6" fill="#fff"/>
<rect x="948" y="572" width="28" height="1" fill="#0f0"/>
<rect x="948" y="577" width="28" height="1" fill="#0f0"/>
<rect x="948" y="572" width="1" height="6" fill="#0f0"/>
<rect x="975" y="572" width="1" height="6" fill="#0f0"/>
<rect x="827" y="572" width="2" height="6" fill="#fff"/>
<rect x="941" y="572" width="2" height="6" fill="#fff"/>
<rect x="844" y="582" width="29" height="1" fill="#fff"/>
<rect x="844" y="586" width="29" height="1" fill="#fff"/>
<rect x="844" y="582" width="1" height="5" fill="#fff"/>
<rect x="872" y="582" width="1" height="5" fill="#fff"/>
<rect x="899" y="581" width="23" height="1" fill="#fff"/>
<rect x="899" y="586" width="23" height="1" fill="#fff"/>
<rect x="899" y="581" width="1" height="6" fill="#fff"/>
<rect x="921" y="581" width="1" height="6" fill="#fff"/>
<rect x="967" y="581" width="7" height="1" fill="#0f0"/>
<rect x="967" y="586" width="7" height="1" fill="#0f0"/>
<rect x="967" y="581" width="1" height="6" fill="#0f0"/>
<rect x="973" y="581" width="1" height="6" fill="#0f0"/>
<rect x="827" y="581" width="2" height="6" fill="#fff"/>
<rect x="941" y="581" width="2" height="6" fill="#fff"/>
<rect x="844" y="590" width="30" height="1" fill="#fff"/>
<rect x="844" y="594" width="30" height="1" fill="#fff"/>
<rect x="844" y="590" width="1" height="5" fill="#fff"/>
<rect x="873" y="590" width="1" height="5" fill="#fff"/>
<rect x="906" y="589" width="9" height="1" fill="#fff"/>
<rect x="906" y="594" width="9" height="1" fill="#fff"/>
<rect x="906" y="589" width="1" height="6" fill="#fff"/>
<rect x="914" y="589" width="1" height="6" fill="#fff"/>
<rect x="968" y="589" width="5" height="1" fill="#0f0"/>
<rect x="968" y="594" width="5" height="1" fill="#0f0"/>
<rect x="968" y="589" width="1" height="6" fill="#0f0"/>
<rect x="972" y="589" width="1" height="6" fill="#0f0"/>
<rect x="827" y="589" width="2" height="6" fill="#fff"/>
<rect x="941" y="589" width="2" height="6" fill="#fff"/>
<rect x="849" y="599" width="18" height="1" fill="#fff"/>
<rect x="849" y="603" width="18" height="1" fill="#fff"/>
<rect x="849" y="599" width="1" height="5" fill="#fff"/>
<rect x="866" y="599" width="1" height="5" fill="#fff"/>
<rect x="904" y="598" width="13" height="1" fill="#fff"/>
<rect x="904" y="603" width="13" height="1" fill="#fff"/>
<rect x="904" y="598" width="1" height="6" fill="#fff"/>
<rect x="916" y="598" width="1" height="6" fill="#fff"/>
<rect x="948" y="598" width="28" height="1" fill="#0f0"/>
<rect x="948" y="603" width="28" height="1" fill="#0f0"/>
<rect x="948" y="598" width="1" height="6" fill="#0f0"/>
<rect x="975" y="598" width="1" height="6" fill="#0f0"/>
<rect x="827" y="598" width="2" height="6" fill="#fff"/>
<rect x="941" y="598" width="2" height="6" fill="#fff"/>
<rect x="845" y="607" width="29" height="1" fill="#fff"/>
<rect x="845" y="611" width="29" height="1" fill="#fff"/>
<rect x="845" y="607" width="1" height="5" fill="#fff"/>
<rect x="873" y="607" width="1" height="5" fill="#fff"/>
<rect x="898" y="606" width="24" height="1" fill="#fff"/>
<rect x="898" y="611" width="24" height="1" fill="#fff"/>
<rect x="898" y="606" width="1" height="6" fill="#fff"/>
<rect x="921" y="606" width="1" height="6" fill="#fff"/>
<rect x="967" y="606" width="7" height="1" fill="#0f0"/>
<rect x="967" y="611" width="7" height="1" fill="#0f0"/>
<rect x="967" y="606" width="1" height="6" fill="#0f0"/>
<rect x="973" y="606" width="1" height="6" fill="#0f0"/>
<rect x="827" y="606" width="2" height="6" fill="#fff"/>
<rect x="941" y="606" width="2" height="6" fill="#fff"/>
<rect x="841" y="616" width="36" height="1" fill="#fff"/>
<rect x="841" y="620" width="36" height="1" fill="#fff"/>
<rect x="841" y="616" width="1" height="5" fill="#fff"/>
<rect x="876" y="616" width="1" height="5" fill="#fff"/>
<rect x="905" y="615" width="12" height="1" fill="#fff"/>
<rect x="905" y="620" width="12" height="1" fill="#fff"/>
<rect x="905" y="615" width="1" height="6" fill="#fff"/>
<rect x="916" y="615" width="1" height="6" fill="#fff"/>
<rect x="967" y="615" width="7" height="1" fill="#0f0"/>
<rect x="967" y="620" width="7" height="1" fill="#0f0"/>
<rect x="967" y="615" width="1" height="6" fill="#0f0"/>
<rect x="973" y="615" width="1" height="6" fill="#0f0"/>
<rect x="827" y="615" width="2" height="6" fill="#fff"/>
<rect x="941" y="615" width="2" height="6" fill="#fff"/>
<rect x="842" y="624" width="32" height="1" fill="#fff"/>
<rect x="842" y="628" width="32" height="1" fill="#fff"/>
<rect x="842" y="624" width="1" height="5" fill="#fff"/>
<rect x="873" y="624" width="1" height="5" fill="#fff"/>
<rect x="904" y="623" width="16" height="1" fill="#fff"/>
<rect x="904" y="628" width="16" height="1" fill="#fff"/>
<rect x="904" y="623" width="1" height="6" fill="#fff"/>
<rect x="919" y="623" width="1" height="6" fill="#fff"/>
<rect x="966" y="623" width="9" height="1" fill="#fff"/>
<rect x="966" y="628" width="9" height="1" fill="#fff"/>
<rect x="966" y="623" width="1" height="6" fill="#fff"/>
<rect x="974" y="623" width="1" height="6" fill="#fff"/>
<rect x="827" y="623" width="2" height="6" fill="#fff"/>
<rect x="940" y="623" width="4" height="1" fill="#fff"/>
<rect x="940" y="628" width="4" height="1" fill="#fff"/>
<rect x="940" y="623" width="1" height="6" fill="#fff"/>
<rect x="943" y="623" width="1" height="6" fill="#fff"/>
<rect x="823" y="632" width="11" height="14" fill="#000"/>
<rect x="836" y="632" width="46" height="14" fill="#000"/>
<rect x="885" y="632" width="51" height="14" fill="#000"/>
<rect x="939" y="632" width="6" height="14" fill="#000"/>
<rect x="948" y="632" width="44" height="14" fill="#000"/>
<rect x="1022" y="632" width="19" height="14" fill="#000"/>
<rect x="824" y="635" width="8" height="1" fill="#fff"/>
<rect x="824" y="641" width="8" height="1" fill="#fff"/>
<rect x="824" y="635" width="1" height="7" fill="#fff"/>
<rect x="831" y="635" width="1" height="7" fill="#fff"/>
<rect x="848" y="636" width="15" height="1" fill="#fff"/>
<rect x="848" y="641" width="15" height="1" fill="#fff"/>
<rect x="848" y="636" width="1" height="6" fill="#fff"/>
<rect x="862" y="636" width="1" height="6" fill="#fff"/>
<rect x="903" y="636" width="17" height="1" fill="#fff"/>
<rect x="903" y="641" width="17" height="1" fill="#fff"/>
<rect x="903" y="636" width="1" height="6" fill="#fff"/>
<rect x="919" y="636" width="1" height="6" fill="#fff"/>
<rect x="962" y="636" width="16" height="1" fill="#0f0"/>
<rect x="962" y="641" width="16" height="1" fill="#0f0"/>
<rect x="962" y="636" width="1" height="6" fill="#0f0"/>
<rect x="977" y="636" width="1" height="6" fill="#0f0"/>
<rect x="1024" y="638" width="16" height="2" fill="#fff"/>
<rect x="1024" y="643" width="16" height="2" fill="#fff"/>
<rect x="1024" y="638" width="2" height="7" fill="#fff"/>
<rect x="1038" y="638" width="2" height="7" fill="#fff"/>
<rect x="941" y="633" width="2" height="6" fill="#fff"/>
<rect x="941" y="639" width="2" height="6" fill="#fff"/>
<rect x="997" y="632" width="8" height="6" fill="#000"/>
<rect x="1009" y="632" width="8" height="6" fill="#000"/>
<rect x="995" y="640" width="6" height="6" fill="#000"/>
<rect x="1002" y="640" width="10" height="6" fill="#000"/>
<rect x="1012" y="640" width="7" height="6" fill="#000"/>
<rect x="823" y="649" width="22" height="31" fill="#000"/>
<rect x="848" y="649" width="16" height="31" fill="#000"/>
<rect x="867" y="649" width="17" height="31" fill="#000"/>
<rect x="887" y="649" width="12" height="31" fill="#000"/>
<rect x="902" y="649" width="16" height="31" fill="#000"/>
<rect x="823" y="656" width="22" height="1" fill="#0f0"/>
<rect x="848" y="656" width="16" height="1" fill="#0f0"/>
<rect x="867" y="656" width="17" height="1" fill="#0f0"/>
<rect x="887" y="656" width="12" height="1" fill="#0f0"/>
<rect x="902" y="656" width="16" height="1" fill="#0f0"/>
<rect x="823" y="664" width="22" height="1" fill="#0f0"/>
<rect x="848" y="664" width="16" height="1" fill="#0f0"/>
<rect x="867" y="664" width="17" height="1" fill="#0f0"/>
<rect x="887" y="664" width="12" height="1" fill="#0f0"/>
<rect x="902" y="664" width="16" height="1" fill="#0f0"/>
<rect x="823" y="673" width="22" height="1" fill="#0f0"/>
<rect x="848" y="673" width="16" height="1" fill="#0f0"/>
<rect x="867" y="673" width="17" height="1" fill="#0f0"/>
<rect x="887" y="673" width="12" height="1" fill="#0f0"/>
<rect x="902" y="673" width="16" height="1" fill="#0f0"/>
<rect x="824" y="673" width="8" height="1" fill="#fff"/>
<rect x="824" y="679" width="8" height="1" fill="#fff"/>
<rect x="824" y="673" width="1" height="7" fill="#fff"/>
<rect x="831" y="673" width="1" height="7" fill="#fff"/>
<rect x="836" y="673" width="8" height="1" fill="#fff"/>
<rect x="836" y="679" width="8" height="1" fill="#fff"/>
<rect x="836" y="673" width="1" height="7" fill="#fff"/>
<rect x="843" y="673" width="1" height="7" fill="#fff"/>
<rect x="852" y="673" width="8" height="1" fill="#fff"/>
<rect x="852" y="679" width="8" height="1" fill="#fff"/>
<rect x="852" y="673" width="1" height="7" fill="#fff"/>
<rect x="859" y="673" width="1" height="7" fill="#fff"/>
<rect x="867" y="673" width="17" height="2" fill="#fff"/>
<rect x="889" y="673" width="8" height="1" fill="#fff"/>
<rect x="889" y="679" width="8" height="1" fill="#fff"/>
<rect x="889" y="673" width="1" height="7" fill="#fff"/>
<rect x="896" y="673" width="1" height="7" fill="#fff"/>
<rect x="823" y="683" width="12" height="6" fill="#000"/>
<rect x="838" y="683" width="12" height="6" fill="#000"/>
<rect x="853" y="683" width="16" height="6" fill="#000"/>
<rect x="887" y="683" width="12" height="6" fill="#000"/>
<rect x="902" y="683" width="16" height="6" fill="#000"/>
<rect x="825" y="683" width="8" height="1" fill="#fff"/>
<rect x="825" y="688" width="8" height="1" fill="#fff"/>
<rect x="825" y="683" width="1" height="6" fill="#fff"/>
<rect x="832" y="683" width="1" height="6" fill="#fff"/>
<rect x="873" y="684" width="10" height="5" fill="#000"/>
<rect x="823" y="692" width="12" height="23" fill="#000"/>
<rect x="838" y="692" width="12" height="23" fill="#000"/>
<rect x="853" y="692" width="16" height="23" fill="#000"/>
<rect x="872" y="692" width="12" height="23" fill="#000"/>
<rect x="887" y="692" width="12" height="23" fill="#000"/>
<rect x="902" y="692" width="16" height="23" fill="#000"/>
<rect x="823" y="698" width="12" height="1" fill="#0f0"/>
<rect x="838" y="698" width="12" height="1" fill="#0f0"/>
<rect x="853" y="698" width="16" height="1" fill="#0f0"/>
<rect x="872" y="698" width="12" height="1" fill="#0f0"/>
<rect x="887" y="698" width="12" height="1" fill="#0f0"/>
<rect x="902" y="698" width="16" height="1" fill="#0f0"/>
<rect x="823" y="707" width="12" height="1" fill="#0f0"/>
<rect x="838" y="707" width="12" height="1" fill="#0f0"/>
<rect x="853" y="707" width="16" height="1" fill="#0f0"/>
<rect x="872" y="707" width="12" height="1" fill="#0f0"/>
<rect x="887" y="707" width="12" height="1" fill="#0f0"/>
<rect x="902" y="707" width="16" height="1" fill="#0f0"/>
<rect x="825" y="700" width="8" height="1" fill="#fff"/>
<rect x="825" y="706" width="8" height="1" fill="#fff"/>
<rect x="825" y="700" width="1" height="7" fill="#fff"/>
<rect x="832" y="700" width="1" height="7" fill="#fff"/>
<rect x="825" y="709" width="8" height="1" fill="#fff"/>
<rect x="825" y="715" width="8" height="1" fill="#fff"/>
<rect x="825" y="709" width="1" height="7" fill="#fff"/>
<rect x="832" y="709" width="1" height="7" fill="#fff"/>
<rect x="874" y="709" width="8" height="1" fill="#fff"/>
<rect x="874" y="715" width="8" height="1" fill="#fff"/>
<rect x="874" y="709" width="1" height="7" fill="#fff"/>
<rect x="881" y="709" width="1" height="7" fill="#fff"/>
<rect x="921" y="649" width="60" height="31" fill="#000"/>
<rect x="921" y="683" width="30" height="10" fill="#000"/>
<rect x="928" y="685" width="16" height="2" fill="#fff"/>
<rect x="928" y="689" width="16" height="2" fill="#fff"/>
<rect x="928" y="685" width="2" height="6" fill="#fff"/>
<rect x="942" y="685" width="2" height="6" fill="#fff"/>
<rect x="953" y="683" width="13" height="10" fill="#000"/>
<rect x="955" y="684" width="9" height="2" fill="#fff"/>
<rect x="955" y="690" width="9" height="2" fill="#fff"/>
<rect x="955" y="684" width="2" height="8" fill="#fff"/>
<rect x="962" y="684" width="2" height="8" fill="#fff"/>
<rect x="968" y="683" width="13" height="10" fill="#000"/>
<rect x="970" y="685" width="9" height="2" fill="#fff"/>
<rect x="970" y="689" width="9" height="2" fill="#fff"/>
<rect x="970" y="685" width="2" height="6" fill="#fff"/>
<rect x="977" y="685" width="2" height="6" fill="#fff"/>
<rect x="921" y="696" width="30" height="8" fill="#000"/>
<rect x="927" y="696" width="1" height="8" fill="#0f0"/>
<rect x="935" y="696" width="1" height="8" fill="#0f0"/>
<rect x="943" y="696" width="1" height="8" fill="#0f0"/>
<rect x="953" y="696" width="13" height="8" fill="#000"/>
<rect x="968" y="696" width="13" height="8" fill="#000"/>
<rect x="970" y="696" width="8" height="2" fill="#fff"/>
<rect x="970" y="701" width="8" height="2" fill="#fff"/>
<rect x="970" y="696" width="2" height="7" fill="#fff"/>
<rect x="976" y="696" width="2" height="7" fill="#fff"/>
<rect x="921" y="707" width="60" height="8" fill="#000"/>
<rect x="936" y="708" width="29" height="2" fill="#fff"/>
<rect x="936" y="713" width="29" height="2" fill="#fff"/>
<rect x="936" y="708" width="2" height="7" fill="#fff"/>
<rect x="963" y="708" width="2" height="7" fill="#fff"/>
<rect x="983" y="649" width="58" height="19" fill="#000"/>
<rect x="983" y="671" width="58" height="22" fill="#000"/>
<rect x="983" y="696" width="58" height="19" fill="#000"/>
<rect x="72" y="15" width="2" height="1" fill="#fff"/>
<rect x="76" y="15" width="2" height="1" fill="#fff"/>
<rect x="81" y="15" width="1" height="1" fill="#fff"/>
<rect x="84" y="15" width="1" height="1" fill="#fff"/>
<rect x="90" y="15" width="4" height="1" fill="#fff"/>
<rect x="98" y="15" width="5" height="1" fill="#fff"/>
<rect x="104" y="15" width="2" height="1" fill="#fff"/>
<rect x="109" y="15" width="2" height="1" fill="#fff"/>
<rect x="72" y="16" width="2" height="1" fill="#fff"/>
<rect x="76" y="16" width="2" height="1" fill="#fff"/>
<rect x="80" y="16" width="2" height="1" fill="#fff"/>
<rect x="83" y="16" width="2" height="1" fill="#fff"/>
<rect x="91" y="16" width="1" height="1" fill="#fff"/>
<rect x="93" y="16" width="1" height="1" fill="#fff"/>
<rect x="96" y="16" width="1" height="1" fill="#fff"/>
<rect x="98" y="16" width="2" height="1" fill="#fff"/>
<rect x="101" y="16" width="2" height="1" fill="#fff"/>
<rect x="105" y="16" width="1" height="1" fill="#fff"/>
<rect x="109" y="16" width="2" height="1" fill="#fff"/>
<rect x="72" y="17" width="2" height="1" fill="#fff"/>
<rect x="76" y="17" width="2" height="1" fill="#fff"/>
<rect x="81" y="17" width="1" height="1" fill="#fff"/>
<rect x="84" y="17" width="1" height="1" fill="#fff"/>
<rect x="91" y="17" width="1" height="1" fill="#fff"/>
<rect x="93" y="17" width="1" height="1" fill="#fff"/>
<rect x="96" y="17" width="1" height="1" fill="#fff"/>
<rect x="98" y="17" width="2" height="1" fill="#fff"/>
<rect x="101" y="17" width="2" height="1" fill="#fff"/>
<rect x="104" y="17" width="2" height="1" fill="#fff"/>
<rect x="109" y="17" width="2" height="1" fill="#fff"/>
<rect x="72" y="18" width="2" height="1" fill="#fff"/>
<rect x="76" y="18" width="2" height="1" fill="#fff"/>
<rect x="80" y="18" width="1" height="1" fill="#fff"/>
<rect x="83" y="18" width="1" height="1" fill="#fff"/>
<rect x="91" y="18" width="1" height="1" fill="#fff"/>
<rect x="93" y="18" width="4" height="1" fill="#fff"/>
<rect x="98" y="18" width="2" height="1" fill="#fff"/>
<rect x="101" y="18" width="2" height="1" fill="#fff"/>
<rect x="105" y="18" width="1" height="1" fill="#fff"/>
<rect x="109" y="18" width="2" height="1" fill="#fff"/>
<rect x="72" y="19" width="2" height="1" fill="#fff"/>
<rect x="76" y="19" width="2" height="1" fill="#fff"/>
<rect x="80" y="19" width="1" height="1" fill="#fff"/>
<rect x="83" y="19" width="1" height="1" fill="#fff"/>
<rect x="86" y="19" width="3" height="1" fill="#fff"/>
<rect x="91" y="19" width="1" height="1" fill="#fff"/>
<rect x="96" y="19" width="1" height="1" fill="#fff"/>
<rect x="98" y="19" width="2" height="1" fill="#fff"/>
<rect x="101" y="19" width="2" height="1" fill="#fff"/>
<rect x="105" y="19" width="1" height="1" fill="#fff"/>
<rect x="109" y="19" width="2" height="1" fill="#fff"/>
<rect x="72" y="20" width="2" height="1" fill="#fff"/>
<rect x="76" y="20" width="2" height="1" fill="#fff"/>
<rect x="80" y="20" width="2" height="1" fill="#fff"/>
<rect x="83" y="20" width="2" height="1" fill="#fff"/>
<rect x="91" y="20" width="1" height="1" fill="#fff"/>
<rect x="96" y="20" width="1" height="1" fill="#fff"/>
<rect x="98" y="20" width="2" height="1" fill="#fff"/>
<rect x="101" y="20" width="2" height="1" fill="#fff"/>
<rect x="104" y="20" width="2" height="1" fill="#fff"/>
<rect x="109" y="20" width="2" height="1" fill="#fff"/>
<rect x="72" y="21" width="2" height="1" fill="#fff"/>
<rect x="76" y="21" width="2" height="1" fill="#fff"/>
<rect x="80" y="21" width="2" height="1" fill="#fff"/>
<rect x="83" y="21" width="2" height="1" fill="#fff"/>
<rect x="91" y="21" width="1" height="1" fill="#fff"/>
<rect x="96" y="21" width="1" height="1" fill="#fff"/>
<rect x="98" y="21" width="2" height="1" fill="#fff"/>
<rect x="101" y="21" width="2" height="1" fill="#fff"/>
<rect x="105" y="21" width="1" height="1" fill="#fff"/>
<rect x="109" y="21" width="2" height="1" fill="#fff"/>
<rect x="72" y="22" width="2" height="1" fill="#fff"/>
<rect x="76" y="22" width="2" height="1" fill="#fff"/>
<rect x="80" y="22" width="2" height="1" fill="#fff"/>
<rect x="83" y="22" width="2" height="1" fill="#fff"/>
<rect x="90" y="22" width="2" height="1" fill="#fff"/>
<rect x="96" y="22" width="1" height="1" fill="#fff"/>
<rect x="98" y="22" width="2" height="1" fill="#fff"/>
<rect x="101" y="22" width="2" height="1" fill="#fff"/>
<rect x="104" y="22" width="2" height="1" fill="#fff"/>
<rect x="109" y="22" width="2" height="1" fill="#fff"/>
<rect x="1001" y="676" width="1" height="1" fill="#fff"/>
<rect x="1012" y="676" width="1" height="1" fill="#fff"/>
<rect x="1021" y="676" width="1" height="1" fill="#fff"/>
<rect x="1001" y="677" width="1" height="1" fill="#fff"/>
<rect x="1003" y="677" width="1" height="1" fill="#fff"/>
<rect x="1013" y="677" width="1" height="1" fill="#fff"/>
<rect x="1016" y="677" width="1" height="1" fill="#fff"/>
<rect x="1021" y="677" width="1" height="1" fill="#fff"/>
<rect x="1001" y="678" width="4" height="1" fill="#fff"/>
<rect x="1010" y="678" width="2" height="1" fill="#fff"/>
<rect x="1013" y="678" width="1" height="1" fill="#fff"/>
<rect x="1016" y="678" width="1" height="1" fill="#fff"/>
<rect x="1020" y="678" width="4" height="1" fill="#fff"/>
<rect x="1000" y="679" width="2" height="1" fill="#fff"/>
<rect x="1003" y="679" width="1" height="1" fill="#fff"/>
<rect x="1010" y="679" width="5" height="1" fill="#fff"/>
<rect x="1016" y="679" width="2" height="1" fill="#fff"/>
<rect x="1020" y="679" width="5" height="1" fill="#fff"/>
<rect x="999" y="680" width="3" height="1" fill="#fff"/>
<rect x="1003" y="680" width="2" height="1" fill="#fff"/>
<rect x="1010" y="680" width="2" height="1" fill="#fff"/>
<rect x="1013" y="680" width="2" height="1" fill="#fff"/>
<rect x="1016" y="680" width="1" height="1" fill="#fff"/>
<rect x="1020" y="680" width="6" height="1" fill="#fff"/>
<rect x="1001" y="681" width="1" height="1" fill="#fff"/>
<rect x="1003" y="681" width="1" height="1" fill="#fff"/>
<rect x="1010" y="681" width="1" height="1" fill="#fff"/>
<rect x="1013" y="681" width="1" height="1" fill="#fff"/>
<rect x="1016" y="681" width="1" height="1" fill="#fff"/>
<rect x="1020" y="681" width="1" height="1" fill="#fff"/>
<rect x="1022" y="681" width="4" height="1" fill="#fff"/>
<rect x="1001" y="682" width="1" height="1" fill="#fff"/>
<rect x="1003" y="682" width="2" height="1" fill="#fff"/>
<rect x="1010" y="682" width="1" height="1" fill="#fff"/>
<rect x="1012" y="682" width="2" height="1" fill="#fff"/>
<rect x="1016" y="682" width="1" height="1" fill="#fff"/>
<rect x="1020" y="682" width="3" height="1" fill="#fff"/>
<rect x="1024" y="682" width="2" height="1" fill="#fff"/>
<rect x="1001" y="683" width="1" height="1" fill="#fff"/>
<rect x="1004" y="683" width="1" height="1" fill="#fff"/>
<rect x="1010" y="683" width="4" height="1" fill="#fff"/>
<rect x="1015" y="683" width="2" height="1" fill="#fff"/>
<rect x="1020" y="683" width="6" height="1" fill="#fff"/>
<rect x="1001" y="684" width="1" height="1" fill="#fff"/>
<rect x="1004" y="684" width="1" height="1" fill="#fff"/>
<rect x="1011" y="684" width="1" height="1" fill="#fff"/>
<rect x="1013" y="684" width="1" height="1" fill="#fff"/>
<rect x="1015" y="684" width="2" height="1" fill="#fff"/>
<rect x="1020" y="684" width="6" height="1" fill="#fff"/>
<rect x="1001" y="685" width="1" height="1" fill="#fff"/>
<rect x="1004" y="685" width="2" height="1" fill="#fff"/>
<rect x="1011" y="685" width="1" height="1" fill="#fff"/>
<rect x="1013" y="685" width="1" height="1" fill="#fff"/>
<rect x="1016" y="685" width="1" height="1" fill="#fff"/>
<rect x="1020" y="685" width="1" height="1" fill="#fff"/>
<rect x="1022" y="685" width="1" height="1" fill="#fff"/>
<rect x="1001" y="686" width="1" height="1" fill="#fff"/>
<rect x="1005" y="686" width="1" height="1" fill="#fff"/>
<rect x="1010" y="686" width="1" height="1" fill="#fff"/>
<rect x="1013" y="686" width="1" height="1" fill="#fff"/>
<rect x="1016" y="686" width="1" height="1" fill="#fff"/>
<rect x="1020" y="686" width="1" height="1" fill="#fff"/>
<rect x="988" y="701" width="2" height="1" fill="#0f0"/>
<rect x="993" y="701" width="2" height="1" fill="#0f0"/>
<rect x="996" y="701" width="2" height="1" fill="#0f0"/>
<rect x="1000" y="701" width="4" height="1" fill="#0f0"/>
<rect x="1006" y="701" width="1" height="1" fill="#0f0"/>
<rect x="1009" y="701" width="4" height="1" fill="#0f0"/>
<rect x="1018" y="701" width="3" height="1" fill="#0f0"/>
<rect x="1022" y="701" width="3" height="1" fill="#0f0"/>
<rect x="1026" y="701" width="2" height="1" fill="#0f0"/>
<rect x="1030" y="701" width="2" height="1" fill="#0f0"/>
<rect x="988" y="702" width="2" height="1" fill="#0f0"/>
<rect x="993" y="702" width="2" height="1" fill="#0f0"/>
<rect x="997" y="702" width="1" height="1" fill="#0f0"/>
<rect x="999" y="702" width="1" height="1" fill="#0f0"/>
<rect x="1002" y="702" width="2" height="1" fill="#0f0"/>
<rect x="1006" y="702" width="1" height="1" fill="#0f0"/>
<rect x="1010" y="702" width="2" height="1" fill="#0f0"/>
<rect x="1020" y="702" width="1" height="1" fill="#0f0"/>
<rect x="1024" y="702" width="1" height="1" fill="#0f0"/>
<rect x="1026" y="702" width="2" height="1" fill="#0f0"/>
<rect x="1030" y="702" width="2" height="1" fill="#0f0"/>
<rect x="988" y="703" width="2" height="1" fill="#0f0"/>
<rect x="993" y="703" width="2" height="1" fill="#0f0"/>
<rect x="997" y="703" width="1" height="1" fill="#0f0"/>
<rect x="999" y="703" width="1" height="1" fill="#0f0"/>
<rect x="1002" y="703" width="2" height="1" fill="#0f0"/>
<rect x="1005" y="703" width="1" height="1" fill="#0f0"/>
<rect x="1010" y="703" width="2" height="1" fill="#0f0"/>
<rect x="1020" y="703" width="1" height="1" fill="#0f0"/>
<rect x="1024" y="703" width="1" height="1" fill="#0f0"/>
<rect x="1026" y="703" width="2" height="1" fill="#0f0"/>
<rect x="1030" y="703" width="2" height="1" fill="#0f0"/>
<rect x="988" y="704" width="2" height="1" fill="#0f0"/>
<rect x="993" y="704" width="2" height="1" fill="#0f0"/>
<rect x="997" y="704" width="1" height="1" fill="#0f0"/>
<rect x="999" y="704" width="1" height="1" fill="#0f0"/>
<rect x="1002" y="704" width="2" height="1" fill="#0f0"/>
<rect x="1005" y="704" width="2" height="1" fill="#0f0"/>
<rect x="1010" y="704" width="2" height="1" fill="#0f0"/>
<rect x="1014" y="704" width="3" height="1" fill="#0f0"/>
<rect x="1019" y="704" width="2" height="1" fill="#0f0"/>
<rect x="1023" y="704" width="2" height="1" fill="#0f0"/>
<rect x="1026" y="704" width="2" height="1" fill="#0f0"/>
<rect x="1030" y="704" width="2" height="1" fill="#0f0"/>
<rect x="988" y="705" width="2" height="1" fill="#0f0"/>
<rect x="993" y="705" width="2" height="1" fill="#0f0"/>
<rect x="997" y="705" width="1" height="1" fill="#0f0"/>
<rect x="999" y="705" width="1" height="1" fill="#0f0"/>
<rect x="1002" y="705" width="2" height="1" fill="#0f0"/>
<rect x="1006" y="705" width="1" height="1" fill="#0f0"/>
<rect x="1010" y="705" width="2" height="1" fill="#0f0"/>
<rect x="1018" y="705" width="1" height="1" fill="#0f0"/>
<rect x="1022" y="705" width="1" height="1" fill="#0f0"/>
<rect x="1026" y="705" width="2" height="1" fill="#0f0"/>
<rect x="1030" y="705" width="2" height="1" fill="#0f0"/>
<rect x="988" y="706" width="2" height="1" fill="#0f0"/>
<rect x="993" y="706" width="2" height="1" fill="#0f0"/>
<rect x="996" y="706" width="2" height="1" fill="#0f0"/>
<rect x="1000" y="706" width="1" height="1" fill="#0f0"/>
<rect x="1002" y="706" width="2" height="1" fill="#0f0"/>
<rect x="1006" y="706" width="1" height="1" fill="#0f0"/>
<rect x="1010" y="706" width="2" height="1" fill="#0f0"/>
<rect x="1018" y="706" width="1" height="1" fill="#0f0"/>
<rect x="1022" y="706" width="1" height="1" fill="#0f0"/>
<rect x="1026" y="706" width="2" height="1" fill="#0f0"/>
<rect x="1030" y="706" width="2" height="1" fill="#0f0"/>
<rect x="988" y="707" width="2" height="1" fill="#0f0"/>
<rect x="993" y="707" width="5" height="1" fill="#0f0"/>
<rect x="1000" y="707" width="4" height="1" fill="#0f0"/>
<rect x="1006" y="707" width="2" height="1" fill="#0f0"/>
<rect x="1009" y="707" width="4" height="1" fill="#0f0"/>
<rect x="1018" y="707" width="3" height="1" fill="#0f0"/>
<rect x="1022" y="707" width="3" height="1" fill="#0f0"/>
<rect x="1026" y="707" width="2" height="1" fill="#0f0"/>
<rect x="1030" y="707" width="2" height="1" fill="#0f0"/>
<rect x="988" y="708" width="2" height="1" fill="#0f0"/>
<rect x="993" y="708" width="4" height="1" fill="#0f0"/>
<rect x="1000" y="708" width="4" height="1" fill="#0f0"/>
<rect x="1006" y="708" width="2" height="1" fill="#0f0"/>
<rect x="1009" y="708" width="4" height="1" fill="#0f0"/>
<rect x="1018" y="708" width="3" height="1" fill="#0f0"/>
<rect x="1022" y="708" width="3" height="1" fill="#0f0"/>
<rect x="1026" y="708" width="2" height="1" fill="#0f0"/>
<rect x="1030" y="708" width="2" height="1" fill="#0f0"/>
<rect x="463" y="555" width="2" height="1" fill="#0f0"/>
<rect x="466" y="555" width="1" height="1" fill="#0f0"/>
<rect x="463" y="556" width="4" height="1" fill="#0f0"/>
<rect x="463" y="557" width="4" height="1" fill="#0f0"/>
<rect x="463" y="558" width="1" height="1" fill="#0f0"/>
<rect x="465" y="558" width="2" height="1" fill="#0f0"/>
<rect x="463" y="559" width="1" height="1" fill="#0f0"/>
<rect x="465" y="559" width="2" height="1" fill="#0f0"/>
<rect x="464" y="560" width="1" height="1" fill="#0f0"/>
<rect x="466" y="560" width="1" height="1" fill="#0f0"/>
<rect x="463" y="561" width="3" height="1" fill="#0f0"/>
<rect x="468" y="555" width="4" height="1" fill="#0f0"/>
<rect x="468" y="556" width="4" height="1" fill="#0f0"/>
<rect x="469" y="557" width="3" height="1" fill="#0f0"/>
<rect x="468" y="558" width="2" height="1" fill="#0f0"/>
<rect x="468" y="559" width="3" height="1" fill="#0f0"/>
<rect x="469" y="560" width="1" height="1" fill="#0f0"/>
<rect x="471" y="560" width="1" height="1" fill="#0f0"/>
<rect x="468" y="561" width="1" height="1" fill="#0f0"/>
<rect x="470" y="561" width="2" height="1" fill="#0f0"/>
<rect x="473" y="555" width="1" height="1" fill="#0f0"/>
<rect x="476" y="555" width="1" height="1" fill="#0f0"/>
<rect x="474" y="556" width="1" height="1" fill="#0f0"/>
<rect x="476" y="556" width="1" height="1" fill="#0f0"/>
<rect x="473" y="557" width="2" height="1" fill="#0f0"/>
<rect x="473" y="558" width="1" height="1" fill="#0f0"/>
<rect x="475" y="558" width="1" height="1" fill="#0f0"/>
<rect x="473" y="559" width="1" height="1" fill="#0f0"/>
<rect x="476" y="559" width="1" height="1" fill="#0f0"/>
<rect x="473" y="560" width="1" height="1" fill="#0f0"/>
<rect x="475" y="560" width="2" height="1" fill="#0f0"/>
<rect x="473" y="561" width="3" height="1" fill="#0f0"/>
<rect x="478" y="555" width="3" height="1" fill="#0f0"/>
<rect x="478" y="556" width="3" height="1" fill="#0f0"/>
<rect x="480" y="557" width="2" height="1" fill="#0f0"/>
<rect x="478" y="558" width="1" height="1" fill="#0f0"/>
<rect x="481" y="558" width="1" height="1" fill="#0f0"/>
<rect x="478" y="559" width="4" height="1" fill="#0f0"/>
<rect x="478" y="560" width="4" height="1" fill="#0f0"/>
<rect x="478" y="561" width="2" height="1" fill="#0f0"/>
<rect x="487" y="567" width="1" height="1" fill="#0f0"/>
<rect x="489" y="567" width="1" height="1" fill="#0f0"/>
<rect x="487" y="568" width="1" height="1" fill="#0f0"/>
<rect x="487" y="569" width="1" height="1" fill="#0f0"/>
<rect x="489" y="569" width="1" height="1" fill="#0f0"/>
<rect x="487" y="570" width="3" height="1" fill="#0f0"/>
<rect x="488" y="571" width="1" height="1" fill="#0f0"/>
<rect x="491" y="567" width="2" height="1" fill="#0f0"/>
<rect x="491" y="568" width="2" height="1" fill="#0f0"/>
<rect x="491" y="569" width="2" height="1" fill="#0f0"/>
<rect x="491" y="570" width="1" height="1" fill="#0f0"/>
<rect x="491" y="571" width="1" height="1" fill="#0f0"/>
<rect x="494" y="567" width="2" height="1" fill="#0f0"/>
<rect x="495" y="568" width="1" height="1" fill="#0f0"/>
<rect x="494" y="569" width="2" height="1" fill="#0f0"/>
<rect x="494" y="570" width="1" height="1" fill="#0f0"/>
<rect x="494" y="571" width="2" height="1" fill="#0f0"/>
<rect x="498" y="567" width="2" height="1" fill="#0f0"/>
<rect x="498" y="568" width="2" height="1" fill="#0f0"/>
<rect x="499" y="569" width="1" height="1" fill="#0f0"/>
<rect x="498" y="571" width="1" height="1" fill="#0f0"/>
<rect x="501" y="568" width="2" height="1" fill="#0f0"/>
<rect x="501" y="569" width="2" height="1" fill="#0f0"/>
<rect x="501" y="570" width="2" height="1" fill="#0f0"/>
<rect x="501" y="571" width="2" height="1" fill="#0f0"/>
<rect x="506" y="567" width="1" height="1" fill="#0f0"/>
<rect x="506" y="568" width="1" height="1" fill="#0f0"/>
<rect x="505" y="569" width="1" height="1" fill="#0f0"/>
<rect x="505" y="570" width="1" height="1" fill="#0f0"/>
<rect x="505" y="571" width="1" height="1" fill="#0f0"/>
<rect x="509" y="568" width="2" height="1" fill="#0f0"/>
<rect x="509" y="569" width="1" height="1" fill="#0f0"/>
<rect x="509" y="570" width="1" height="1" fill="#0f0"/>
<rect x="509" y="571" width="2" height="1" fill="#0f0"/>
<rect x="512" y="567" width="1" height="1" fill="#0f0"/>
<rect x="512" y="569" width="2" height="1" fill="#0f0"/>
<rect x="512" y="570" width="1" height="1" fill="#0f0"/>
<rect x="512" y="571" width="2" height="1" fill="#0f0"/>
<rect x="516" y="567" width="2" height="1" fill="#0f0"/>
<rect x="517" y="568" width="1" height="1" fill="#0f0"/>
<rect x="516" y="569" width="1" height="1" fill="#0f0"/>
<rect x="516" y="570" width="2" height="1" fill="#0f0"/>
<rect x="516" y="571" width="2" height="1" fill="#0f0"/>
<rect x="519" y="568" width="2" height="1" fill="#0f0"/>
<rect x="520" y="569" width="1" height="1" fill="#0f0"/>
<rect x="519" y="570" width="2" height="1" fill="#0f0"/>
<rect x="519" y="571" width="2" height="1" fill="#0f0"/>
<rect x="523" y="567" width="1" height="1" fill="#0f0"/>
<rect x="523" y="568" width="2" height="1" fill="#0f0"/>
<rect x="523" y="569" width="2" height="1" fill="#0f0"/>
<rect x="523" y="570" width="1" height="1" fill="#0f0"/>
<rect x="523" y="571" width="1" height="1" fill="#0f0"/>
<rect x="527" y="567" width="2" height="1" fill="#0f0"/>
<rect x="527" y="568" width="1" height="1" fill="#0f0"/>
<rect x="527" y="569" width="1" height="1" fill="#0f0"/>
<rect x="527" y="570" width="1" height="1" fill="#0f0"/>
<rect x="527" y="571" width="1" height="1" fill="#0f0"/>
<rect x="530" y="567" width="1" height="1" fill="#0f0"/>
<rect x="530" y="568" width="1" height="1" fill="#0f0"/>
<rect x="530" y="569" width="1" height="1" fill="#0f0"/>
<rect x="530" y="570" width="2" height="1" fill="#0f0"/>
<rect x="530" y="571" width="1" height="1" fill="#0f0"/>
<rect x="535" y="567" width="1" height="1" fill="#0f0"/>
<rect x="534" y="568" width="2" height="1" fill="#0f0"/>
<rect x="534" y="569" width="1" height="1" fill="#0f0"/>
<rect x="535" y="570" width="1" height="1" fill="#0f0"/>
<rect x="534" y="571" width="2" height="1" fill="#0f0"/>
<rect x="537" y="567" width="1" height="1" fill="#0f0"/>
<rect x="537" y="568" width="1" height="1" fill="#0f0"/>
<rect x="537" y="569" width="1" height="1" fill="#0f0"/>
<rect x="537" y="570" width="2" height="1" fill="#0f0"/>
<rect x="537" y="571" width="2" height="1" fill="#0f0"/>
<rect x="541" y="568" width="1" height="1" fill="#0f0"/>
<rect x="543" y="568" width="1" height="1" fill="#0f0"/>
<rect x="541" y="569" width="2" height="1" fill="#0f0"/>
<rect x="541" y="570" width="2" height="1" fill="#0f0"/>
<rect x="545" y="567" width="2" height="1" fill="#0f0"/>
<rect x="545" y="569" width="1" height="1" fill="#0f0"/>
<rect x="546" y="570" width="1" height="1" fill="#0f0"/>
<rect x="545" y="571" width="2" height="1" fill="#0f0"/>
<rect x="548" y="567" width="1" height="1" fill="#0f0"/>
<rect x="548" y="568" width="2" height="1" fill="#0f0"/>
<rect x="548" y="569" width="2" height="1" fill="#0f0"/>
<rect x="548" y="570" width="2" height="1" fill="#0f0"/>
<rect x="548" y="571" width="2" height="1" fill="#0f0"/>
<rect x="552" y="568" width="2" height="1" fill="#0f0"/>
<rect x="552" y="569" width="1" height="1" fill="#0f0"/>
<rect x="552" y="570" width="1" height="1" fill="#0f0"/>
<rect x="552" y="571" width="1" height="1" fill="#0f0"/>
<rect x="555" y="567" width="2" height="1" fill="#0f0"/>
<rect x="555" y="568" width="2" height="1" fill="#0f0"/>
<rect x="555" y="569" width="2" height="1" fill="#0f0"/>
<rect x="555" y="570" width="1" height="1" fill="#0f0"/>
<rect x="555" y="571" width="1" height="1" fill="#0f0"/>
<rect x="559" y="567" width="1" height="1" fill="#0f0"/>
<rect x="559" y="568" width="2" height="1" fill="#0f0"/>
<rect x="559" y="569" width="1" height="1" fill="#0f0"/>
<rect x="560" y="570" width="1" height="1" fill="#0f0"/>
<rect x="560" y="571" width="1" height="1" fill="#0f0"/>
<rect x="563" y="567" width="2" height="1" fill="#0f0"/>
<rect x="563" y="568" width="2" height="1" fill="#0f0"/>
<rect x="563" y="569" width="2" height="1" fill="#0f0"/>
<rect x="563" y="570" width="2" height="1" fill="#0f0"/>
<rect x="563" y="571" width="1" height="1" fill="#0f0"/>
<rect x="566" y="567" width="1" height="1" fill="#0f0"/>
<rect x="566" y="568" width="2" height="1" fill="#0f0"/>
<rect x="566" y="570" width="1" height="1" fill="#0f0"/>
<rect x="566" y="571" width="1" height="1" fill="#0f0"/>
<rect x="570" y="567" width="1" height="1" fill="#0f0"/>
<rect x="570" y="568" width="1" height="1" fill="#0f0"/>
<rect x="570" y="569" width="2" height="1" fill="#0f0"/>
<rect x="570" y="570" width="2" height="1" fill="#0f0"/>
<rect x="571" y="571" width="1" height="1" fill="#0f0"/>
<rect x="573" y="567" width="1" height="1" fill="#0f0"/>
<rect x="573" y="568" width="1" height="1" fill="#0f0"/>
<rect x="573" y="569" width="1" height="1" fill="#0f0"/>
<rect x="575" y="569" width="1" height="1" fill="#0f0"/>
<rect x="573" y="570" width="1" height="1" fill="#0f0"/>
<rect x="573" y="571" width="2" height="1" fill="#0f0"/>
<rect x="577" y="567" width="2" height="1" fill="#0f0"/>
<rect x="577" y="568" width="1" height="1" fill="#0f0"/>
<rect x="577" y="570" width="1" height="1" fill="#0f0"/>
<rect x="577" y="571" width="1" height="1" fill="#0f0"/>
<rect x="581" y="567" width="1" height="1" fill="#0f0"/>
<rect x="581" y="568" width="1" height="1" fill="#0f0"/>
<rect x="581" y="569" width="2" height="1" fill="#0f0"/>
<rect x="581" y="570" width="1" height="1" fill="#0f0"/>
<rect x="581" y="571" width="2" height="1" fill="#0f0"/>
<rect x="585" y="567" width="1" height="1" fill="#0f0"/>
<rect x="584" y="568" width="2" height="1" fill="#0f0"/>
<rect x="584" y="569" width="2" height="1" fill="#0f0"/>
<rect x="584" y="570" width="1" height="1" fill="#0f0"/>
<rect x="585" y="571" width="1" height="1" fill="#0f0"/>
<rect x="588" y="567" width="1" height="1" fill="#0f0"/>
<rect x="588" y="568" width="2" height="1" fill="#0f0"/>
<rect x="589" y="569" width="1" height="1" fill="#0f0"/>
<rect x="588" y="570" width="2" height="1" fill="#0f0"/>
<rect x="588" y="571" width="2" height="1" fill="#0f0"/>
<rect x="591" y="567" width="1" height="1" fill="#0f0"/>
<rect x="591" y="568" width="1" height="1" fill="#0f0"/>
<rect x="591" y="569" width="1" height="1" fill="#0f0"/>
<rect x="591" y="570" width="2" height="1" fill="#0f0"/>
<rect x="591" y="571" width="2" height="1" fill="#0f0"/>
<rect x="595" y="567" width="1" height="1" fill="#0f0"/>
<rect x="595" y="568" width="2" height="1" fill="#0f0"/>
<rect x="595" y="569" width="2" height="1" fill="#0f0"/>
<rect x="595" y="570" width="1" height="1" fill="#0f0"/>
<rect x="595" y="571" width="2" height="1" fill="#0f0"/>
<rect x="600" y="568" width="1" height="1" fill="#0f0"/>
<rect x="599" y="569" width="1" height="1" fill="#0f0"/>
<rect x="599" y="570" width="1" height="1" fill="#0f0"/>
<rect x="599" y="571" width="2" height="1" fill="#0f0"/>
<rect x="487" y="576" width="2" height="1" fill="#0f0"/>
<rect x="487" y="577" width="1" height="1" fill="#0f0"/>
<rect x="488" y="578" width="1" height="1" fill="#0f0"/>
<rect x="487" y="579" width="2" height="1" fill="#0f0"/>
<rect x="487" y="580" width="2" height="1" fill="#0f0"/>
<rect x="492" y="576" width="1" height="1" fill="#0f0"/>
<rect x="491" y="577" width="2" height="1" fill="#0f0"/>
<rect x="491" y="578" width="2" height="1" fill="#0f0"/>
<rect x="491" y="579" width="2" height="1" fill="#0f0"/>
<rect x="491" y="580" width="1" height="1" fill="#0f0"/>
<rect x="494" y="576" width="2" height="1" fill="#0f0"/>
<rect x="494" y="577" width="1" height="1" fill="#0f0"/>
<rect x="494" y="578" width="1" height="1" fill="#0f0"/>
<rect x="494" y="579" width="1" height="1" fill="#0f0"/>
<rect x="495" y="580" width="1" height="1" fill="#0f0"/>
<rect x="498" y="576" width="1" height="1" fill="#0f0"/>
<rect x="499" y="577" width="1" height="1" fill="#0f0"/>
<rect x="498" y="578" width="1" height="1" fill="#0f0"/>
<rect x="498" y="579" width="2" height="1" fill="#0f0"/>
<rect x="498" y="580" width="2" height="1" fill="#0f0"/>
<rect x="501" y="576" width="1" height="1" fill="#0f0"/>
<rect x="501" y="577" width="1" height="1" fill="#0f0"/>
<rect x="501" y="578" width="1" height="1" fill="#0f0"/>
<rect x="501" y="579" width="2" height="1" fill="#0f0"/>
<rect x="505" y="576" width="2" height="1" fill="#0f0"/>
<rect x="505" y="577" width="2" height="1" fill="#0f0"/>
<rect x="505" y="578" width="1" height="1" fill="#0f0"/>
<rect x="505" y="579" width="1" height="1" fill="#0f0"/>
<rect x="505" y="580" width="2" height="1" fill="#0f0"/>
<rect x="510" y="576" width="1" height="1" fill="#0f0"/>
<rect x="509" y="577" width="1" height="1" fill="#0f0"/>
<rect x="509" y="579" width="2" height="1" fill="#0f0"/>
<rect x="509" y="580" width="2" height="1" fill="#0f0"/>
<rect x="512" y="577" width="2" height="1" fill="#0f0"/>
<rect x="512" y="578" width="1" height="1" fill="#0f0"/>
<rect x="512" y="579" width="1" height="1" fill="#0f0"/>
<rect x="512" y="580" width="1" height="1" fill="#0f0"/>
<rect x="516" y="576" width="2" height="1" fill="#0f0"/>
<rect x="516" y="577" width="2" height="1" fill="#0f0"/>
<rect x="516" y="578" width="2" height="1" fill="#0f0"/>
<rect x="516" y="580" width="1" height="1" fill="#0f0"/>
<rect x="519" y="576" width="1" height="1" fill="#0f0"/>
<rect x="519" y="577" width="1" height="1" fill="#0f0"/>
<rect x="519" y="578" width="1" height="1" fill="#0f0"/>
<rect x="521" y="578" width="1" height="1" fill="#0f0"/>
<rect x="520" y="579" width="1" height="1" fill="#0f0"/>
<rect x="520" y="580" width="1" height="1" fill="#0f0"/>
<rect x="523" y="576" width="2" height="1" fill="#0f0"/>
<rect x="523" y="577" width="1" height="1" fill="#0f0"/>
<rect x="523" y="578" width="2" height="1" fill="#0f0"/>
<rect x="523" y="579" width="1" height="1" fill="#0f0"/>
<rect x="523" y="580" width="2" height="1" fill="#0f0"/>
<rect x="527" y="576" width="1" height="1" fill="#0f0"/>
<rect x="527" y="577" width="2" height="1" fill="#0f0"/>
<rect x="528" y="578" width="1" height="1" fill="#0f0"/>
<rect x="527" y="579" width="1" height="1" fill="#0f0"/>
<rect x="527" y="580" width="1" height="1" fill="#0f0"/>
<rect x="530" y="576" width="1" height="1" fill="#0f0"/>
<rect x="532" y="576" width="1" height="1" fill="#0f0"/>
<rect x="531" y="577" width="1" height="1" fill="#0f0"/>
<rect x="530" y="578" width="1" height="1" fill="#0f0"/>
<rect x="530" y="579" width="2" height="1" fill="#0f0"/>
<rect x="531" y="580" width="1" height="1" fill="#0f0"/>
<rect x="534" y="576" width="2" height="1" fill="#0f0"/>
<rect x="534" y="577" width="2" height="1" fill="#0f0"/>
<rect x="534" y="578" width="2" height="1" fill="#0f0"/>
<rect x="535" y="579" width="1" height="1" fill="#0f0"/>
<rect x="537" y="576" width="2" height="1" fill="#0f0"/>
<rect x="537" y="577" width="2" height="1" fill="#0f0"/>
<rect x="537" y="578" width="1" height="1" fill="#0f0"/>
<rect x="537" y="579" width="2" height="1" fill="#0f0"/>
<rect x="537" y="580" width="2" height="1" fill="#0f0"/>
<rect x="487" y="585" width="2" height="1" fill="#0f0"/>
<rect x="487" y="586" width="2" height="1" fill="#0f0"/>
<rect x="487" y="587" width="2" height="1" fill="#0f0"/>
<rect x="487" y="588" width="1" height="1" fill="#0f0"/>
<rect x="491" y="584" width="2" height="1" fill="#0f0"/>
<rect x="491" y="585" width="2" height="1" fill="#0f0"/>
<rect x="491" y="586" width="2" height="1" fill="#0f0"/>
<rect x="491" y="587" width="2" height="1" fill="#0f0"/>
<rect x="491" y="588" width="1" height="1" fill="#0f0"/>
<rect x="494" y="584" width="2" height="1" fill="#0f0"/>
<rect x="494" y="585" width="1" height="1" fill="#0f0"/>
<rect x="494" y="586" width="1" height="1" fill="#0f0"/>
<rect x="494" y="588" width="2" height="1" fill="#0f0"/>
<rect x="498" y="585" width="1" height="1" fill="#0f0"/>
<rect x="499" y="586" width="1" height="1" fill="#0f0"/>
<rect x="498" y="587" width="1" height="1" fill="#0f0"/>
<rect x="498" y="588" width="1" height="1" fill="#0f0"/>
<rect x="501" y="584" width="1" height="1" fill="#0f0"/>
<rect x="501" y="585" width="2" height="1" fill="#0f0"/>
<rect x="501" y="586" width="2" height="1" fill="#0f0"/>
<rect x="501" y="587" width="2" height="1" fill="#0f0"/>
<rect x="501" y="588" width="1" height="1" fill="#0f0"/>
<rect x="505" y="584" width="2" height="1" fill="#0f0"/>
<rect x="505" y="585" width="2" height="1" fill="#0f0"/>
<rect x="505" y="586" width="1" height="1" fill="#0f0"/>
<rect x="505" y="587" width="2" height="1" fill="#0f0"/>
<rect x="505" y="588" width="1" height="1" fill="#0f0"/>
<rect x="509" y="584" width="2" height="1" fill="#0f0"/>
<rect x="509" y="585" width="1" height="1" fill="#0f0"/>
<rect x="511" y="585" width="1" height="1" fill="#0f0"/>
<rect x="509" y="586" width="2" height="1" fill="#0f0"/>
<rect x="509" y="587" width="1" height="1" fill="#0f0"/>
<rect x="510" y="588" width="1" height="1" fill="#0f0"/>
<rect x="512" y="584" width="2" height="1" fill="#0f0"/>
<rect x="512" y="585" width="1" height="1" fill="#0f0"/>
<rect x="512" y="586" width="1" height="1" fill="#0f0"/>
<rect x="512" y="587" width="2" height="1" fill="#0f0"/>
<rect x="512" y="588" width="2" height="1" fill="#0f0"/>
<rect x="516" y="585" width="1" height="1" fill="#0f0"/>
<rect x="516" y="586" width="1" height="1" fill="#0f0"/>
<rect x="517" y="587" width="1" height="1" fill="#0f0"/>
<rect x="516" y="588" width="1" height="1" fill="#0f0"/>
<rect x="519" y="584" width="2" height="1" fill="#0f0"/>
<rect x="519" y="585" width="1" height="1" fill="#0f0"/>
<rect x="521" y="585" width="1" height="1" fill="#0f0"/>
<rect x="519" y="586" width="1" height="1" fill="#0f0"/>
<rect x="519" y="587" width="3" height="1" fill="#0f0"/>
<rect x="519" y="588" width="1" height="1" fill="#0f0"/>
<rect x="523" y="584" width="2" height="1" fill="#0f0"/>
<rect x="523" y="585" width="1" height="1" fill="#0f0"/>
<rect x="523" y="586" width="2" height="1" fill="#0f0"/>
<rect x="523" y="587" width="2" height="1" fill="#0f0"/>
<rect x="523" y="588" width="2" height="1" fill="#0f0"/>
<rect x="527" y="584" width="2" height="1" fill="#0f0"/>
<rect x="527" y="585" width="2" height="1" fill="#0f0"/>
<rect x="527" y="586" width="2" height="1" fill="#0f0"/>
<rect x="527" y="587" width="1" height="1" fill="#0f0"/>
<rect x="527" y="588" width="2" height="1" fill="#0f0"/>
<rect x="530" y="584" width="1" height="1" fill="#0f0"/>
<rect x="530" y="585" width="1" height="1" fill="#0f0"/>
<rect x="530" y="586" width="1" height="1" fill="#0f0"/>
<rect x="530" y="588" width="2" height="1" fill="#0f0"/>
<rect x="534" y="584" width="2" height="1" fill="#0f0"/>
<rect x="534" y="586" width="2" height="1" fill="#0f0"/>
<rect x="534" y="587" width="1" height="1" fill="#0f0"/>
<rect x="534" y="588" width="2" height="1" fill="#0f0"/>
<rect x="537" y="584" width="1" height="1" fill="#0f0"/>
<rect x="537" y="585" width="1" height="1" fill="#0f0"/>
<rect x="537" y="586" width="2" height="1" fill="#0f0"/>
<rect x="537" y="587" width="1" height="1" fill="#0f0"/>
<rect x="538" y="588" width="1" height="1" fill="#0f0"/>
<rect x="541" y="584" width="2" height="1" fill="#0f0"/>
<rect x="541" y="586" width="2" height="1" fill="#0f0"/>
<rect x="541" y="588" width="1" height="1" fill="#0f0"/>
<rect x="545" y="584" width="1" height="1" fill="#0f0"/>
<rect x="545" y="585" width="1" height="1" fill="#0f0"/>
<rect x="545" y="586" width="2" height="1" fill="#0f0"/>
<rect x="545" y="587" width="2" height="1" fill="#0f0"/>
<rect x="546" y="588" width="1" height="1" fill="#0f0"/>
<rect x="548" y="584" width="2" height="1" fill="#0f0"/>
<rect x="548" y="585" width="2" height="1" fill="#0f0"/>
<rect x="548" y="586" width="2" height="1" fill="#0f0"/>
<rect x="548" y="587" width="2" height="1" fill="#0f0"/>
<rect x="548" y="588" width="1" height="1" fill="#0f0"/>
<rect x="552" y="585" width="1" height="1" fill="#0f0"/>
<rect x="552" y="586" width="2" height="1" fill="#0f0"/>
<rect x="552" y="587" width="2" height="1" fill="#0f0"/>
<rect x="552" y="588" width="2" height="1" fill="#0f0"/>
<rect x="555" y="585" width="2" height="1" fill="#0f0"/>
<rect x="555" y="586" width="2" height="1" fill="#0f0"/>
<rect x="556" y="587" width="1" height="1" fill="#0f0"/>
<rect x="555" y="588" width="1" height="1" fill="#0f0"/>
<rect x="487" y="592" width="2" height="1" fill="#0f0"/>
<rect x="487" y="593" width="3" height="1" fill="#0f0"/>
<rect x="487" y="594" width="2" height="1" fill="#0f0"/>
<rect x="487" y="595" width="1" height="1" fill="#0f0"/>
<rect x="487" y="596" width="1" height="1" fill="#0f0"/>
<rect x="491" y="592" width="2" height="1" fill="#0f0"/>
<rect x="491" y="593" width="2" height="1" fill="#0f0"/>
<rect x="491" y="594" width="1" height="1" fill="#0f0"/>
<rect x="491" y="595" width="1" height="1" fill="#0f0"/>
<rect x="491" y="596" width="1" height="1" fill="#0f0"/>
<rect x="494" y="592" width="1" height="1" fill="#0f0"/>
<rect x="494" y="593" width="2" height="1" fill="#0f0"/>
<rect x="494" y="594" width="2" height="1" fill="#0f0"/>
<rect x="495" y="595" width="1" height="1" fill="#0f0"/>
<rect x="494" y="596" width="1" height="1" fill="#0f0"/>
<rect x="498" y="592" width="1" height="1" fill="#0f0"/>
<rect x="499" y="593" width="1" height="1" fill="#0f0"/>
<rect x="498" y="594" width="1" height="1" fill="#0f0"/>
<rect x="498" y="595" width="1" height="1" fill="#0f0"/>
<rect x="498" y="596" width="1" height="1" fill="#0f0"/>
<rect x="501" y="592" width="2" height="1" fill="#0f0"/>
<rect x="501" y="593" width="1" height="1" fill="#0f0"/>
<rect x="502" y="594" width="1" height="1" fill="#0f0"/>
<rect x="501" y="595" width="2" height="1" fill="#0f0"/>
<rect x="501" y="596" width="2" height="1" fill="#0f0"/>
<rect x="505" y="592" width="1" height="1" fill="#0f0"/>
<rect x="505" y="593" width="2" height="1" fill="#0f0"/>
<rect x="505" y="594" width="1" height="1" fill="#0f0"/>
<rect x="505" y="595" width="1" height="1" fill="#0f0"/>
<rect x="505" y="596" width="1" height="1" fill="#0f0"/>
<rect x="509" y="592" width="2" height="1" fill="#0f0"/>
<rect x="509" y="593" width="3" height="1" fill="#0f0"/>
<rect x="509" y="594" width="1" height="1" fill="#0f0"/>
<rect x="509" y="595" width="2" height="1" fill="#0f0"/>
<rect x="509" y="596" width="2" height="1" fill="#0f0"/>
<rect x="512" y="592" width="1" height="1" fill="#0f0"/>
<rect x="512" y="593" width="2" height="1" fill="#0f0"/>
<rect x="513" y="594" width="1" height="1" fill="#0f0"/>
<rect x="512" y="595" width="2" height="1" fill="#0f0"/>
<rect x="516" y="592" width="1" height="1" fill="#0f0"/>
<rect x="516" y="593" width="1" height="1" fill="#0f0"/>
<rect x="516" y="594" width="2" height="1" fill="#0f0"/>
<rect x="516" y="595" width="2" height="1" fill="#0f0"/>
<rect x="516" y="596" width="2" height="1" fill="#0f0"/>
<rect x="519" y="592" width="2" height="1" fill="#0f0"/>
<rect x="520" y="593" width="1" height="1" fill="#0f0"/>
<rect x="519" y="594" width="1" height="1" fill="#0f0"/>
<rect x="519" y="595" width="2" height="1" fill="#0f0"/>
<rect x="519" y="596" width="1" height="1" fill="#0f0"/>
<rect x="523" y="592" width="2" height="1" fill="#0f0"/>
<rect x="524" y="593" width="1" height="1" fill="#0f0"/>
<rect x="523" y="594" width="1" height="1" fill="#0f0"/>
<rect x="523" y="596" width="2" height="1" fill="#0f0"/>
<rect x="527" y="592" width="1" height="1" fill="#0f0"/>
<rect x="527" y="593" width="1" height="1" fill="#0f0"/>
<rect x="527" y="594" width="1" height="1" fill="#0f0"/>
<rect x="527" y="595" width="2" height="1" fill="#0f0"/>
<rect x="527" y="596" width="2" height="1" fill="#0f0"/>
<rect x="530" y="592" width="2" height="1" fill="#0f0"/>
<rect x="530" y="593" width="2" height="1" fill="#0f0"/>
<rect x="530" y="594" width="2" height="1" fill="#0f0"/>
<rect x="530" y="595" width="2" height="1" fill="#0f0"/>
<rect x="530" y="596" width="1" height="1" fill="#0f0"/>
<rect x="487" y="600" width="1" height="1" fill="#0f0"/>
<rect x="489" y="600" width="1" height="1" fill="#0f0"/>
<rect x="487" y="602" width="2" height="1" fill="#0f0"/>
<rect x="487" y="603" width="3" height="1" fill="#0f0"/>
<rect x="491" y="600" width="2" height="1" fill="#0f0"/>
<rect x="491" y="601" width="1" height="1" fill="#0f0"/>
<rect x="491" y="602" width="2" height="1" fill="#0f0"/>
<rect x="491" y="603" width="1" height="1" fill="#0f0"/>
<rect x="491" y="604" width="1" height="1" fill="#0f0"/>
<rect x="494" y="600" width="1" height="1" fill="#0f0"/>
<rect x="494" y="602" width="2" height="1" fill="#0f0"/>
<rect x="494" y="603" width="2" height="1" fill="#0f0"/>
<rect x="498" y="600" width="1" height="1" fill="#0f0"/>
<rect x="498" y="601" width="1" height="1" fill="#0f0"/>
<rect x="498" y="602" width="2" height="1" fill="#0f0"/>
<rect x="498" y="603" width="1" height="1" fill="#0f0"/>
<rect x="500" y="603" width="1" height="1" fill="#0f0"/>
<rect x="498" y="604" width="1" height="1" fill="#0f0"/>
<rect x="501" y="600" width="1" height="1" fill="#0f0"/>
<rect x="501" y="601" width="1" height="1" fill="#0f0"/>
<rect x="501" y="603" width="1" height="1" fill="#0f0"/>
<rect x="501" y="604" width="1" height="1" fill="#0f0"/>
<rect x="505" y="600" width="2" height="1" fill="#0f0"/>
<rect x="505" y="601" width="2" height="1" fill="#0f0"/>
<rect x="505" y="602" width="2" height="1" fill="#0f0"/>
<rect x="505" y="603" width="2" height="1" fill="#0f0"/>
<rect x="506" y="604" width="1" height="1" fill="#0f0"/>
<rect x="509" y="600" width="1" height="1" fill="#0f0"/>
<rect x="509" y="601" width="2" height="1" fill="#0f0"/>
<rect x="510" y="602" width="1" height="1" fill="#0f0"/>
<rect x="509" y="603" width="2" height="1" fill="#0f0"/>
<rect x="509" y="604" width="1" height="1" fill="#0f0"/>
<rect x="513" y="600" width="1" height="1" fill="#0f0"/>
<rect x="512" y="601" width="2" height="1" fill="#0f0"/>
<rect x="512" y="602" width="1" height="1" fill="#0f0"/>
<rect x="512" y="603" width="2" height="1" fill="#0f0"/>
<rect x="512" y="604" width="1" height="1" fill="#0f0"/>
<rect x="516" y="600" width="2" height="1" fill="#0f0"/>
<rect x="516" y="601" width="2" height="1" fill="#0f0"/>
<rect x="516" y="602" width="2" height="1" fill="#0f0"/>
<rect x="516" y="603" width="2" height="1" fill="#0f0"/>
<rect x="516" y="604" width="1" height="1" fill="#0f0"/>
<rect x="519" y="600" width="1" height="1" fill="#0f0"/>
<rect x="520" y="601" width="2" height="1" fill="#0f0"/>
<rect x="519" y="602" width="2" height="1" fill="#0f0"/>
<rect x="519" y="603" width="1" height="1" fill="#0f0"/>
<rect x="519" y="604" width="1" height="1" fill="#0f0"/>
<rect x="523" y="600" width="1" height="1" fill="#0f0"/>
<rect x="523" y="601" width="1" height="1" fill="#0f0"/>
<rect x="523" y="603" width="1" height="1" fill="#0f0"/>
<rect x="523" y="604" width="1" height="1" fill="#0f0"/>
<rect x="527" y="600" width="2" height="1" fill="#0f0"/>
<rect x="527" y="601" width="2" height="1" fill="#0f0"/>
<rect x="528" y="602" width="1" height="1" fill="#0f0"/>
<rect x="527" y="603" width="2" height="1" fill="#0f0"/>
<rect x="527" y="604" width="2" height="1" fill="#0f0"/>
<rect x="462" y="567" width="1" height="1" fill="#0f0"/>
<rect x="462" y="568" width="1" height="1" fill="#0f0"/>
<rect x="462" y="569" width="1" height="1" fill="#0f0"/>
<rect x="462" y="570" width="1" height="1" fill="#0f0"/>
<rect x="462" y="571" width="2" height="1" fill="#0f0"/>
<rect x="462" y="576" width="1" height="1" fill="#0f0"/>
<rect x="462" y="577" width="1" height="1" fill="#0f0"/>
<rect x="462" y="578" width="1" height="1" fill="#0f0"/>
<rect x="462" y="579" width="1" height="1" fill="#0f0"/>
<rect x="462" y="580" width="2" height="1" fill="#0f0"/>
<rect x="462" y="584" width="1" height="1" fill="#0f0"/>
<rect x="462" y="585" width="1" height="1" fill="#0f0"/>
<rect x="462" y="586" width="1" height="1" fill="#0f0"/>
<rect x="462" y="587" width="1" height="1" fill="#0f0"/>
<rect x="462" y="588" width="2" height="1" fill="#0f0"/>
<rect x="462" y="592" width="1" height="1" fill="#0f0"/>
<rect x="462" y="593" width="1" height="1" fill="#0f0"/>
<rect x="462" y="594" width="1" height="1" fill="#0f0"/>
<rect x="462" y="595" width="1" height="1" fill="#0f0"/>
<rect x="462" y="596" width="2" height="1" fill="#0f0"/>
<rect x="462" y="600" width="1" height="1" fill="#0f0"/>
<rect x="462" y="601" width="1" height="1" fill="#0f0"/>
<rect x="462" y="602" width="1" height="1" fill="#0f0"/>
<rect x="462" y="603" width="1" height="1" fill="#0f0"/>
<rect x="462" y="604" width="2" height="1" fill="#0f0"/>
</svg></body></html>
